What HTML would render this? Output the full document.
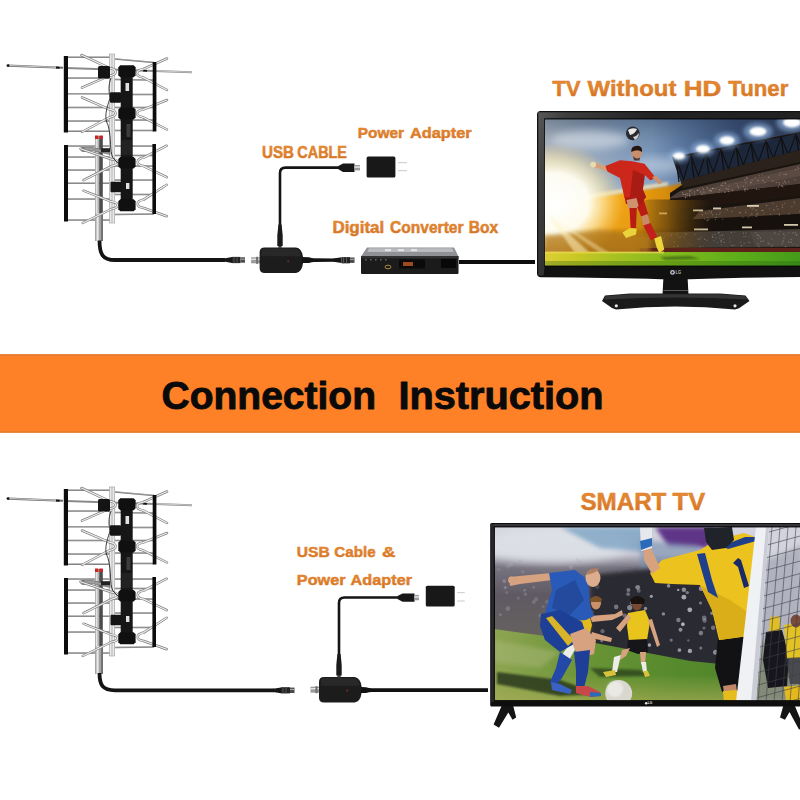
<!DOCTYPE html>
<html lang="en"><head><meta charset="utf-8"><title>Connection Instruction</title>
<style>html,body{margin:0;padding:0;background:#fff;}body{width:800px;height:800px;overflow:hidden;}svg{display:block;}</style>
</head><body>
<svg width="800" height="800" viewBox="0 0 800 800">
<defs>
<linearGradient id="txg" x1="0" y1="0" x2="0" y2="1" gradientUnits="objectBoundingBox">
<stop offset="0" stop-color="#e88e36"/><stop offset="0.55" stop-color="#df802c"/><stop offset="1" stop-color="#cc6c20"/>
</linearGradient>
<filter id="b1" x="-20%" y="-20%" width="140%" height="140%"><feGaussianBlur stdDeviation="1"/></filter>
<filter id="b2" x="-20%" y="-20%" width="140%" height="140%"><feGaussianBlur stdDeviation="2"/></filter>
<filter id="b4" x="-30%" y="-30%" width="160%" height="160%"><feGaussianBlur stdDeviation="4"/></filter>
<filter id="b8" x="-50%" y="-50%" width="200%" height="200%"><feGaussianBlur stdDeviation="8"/></filter>
</defs>

<rect x="0" y="354.3" width="800" height="78.4" fill="#fe8127"/>
<rect x="0" y="354.3" width="800" height="1.2" fill="#dc7a36"/>
<rect x="0" y="431.3" width="800" height="1.4" fill="#e07c30"/>
<text y="409" font-family="'Liberation Sans', Arial, sans-serif" font-size="39" font-weight="bold" fill="#0a0a0a" stroke="#0a0a0a" stroke-width="0.9" stroke-linejoin="round"><tspan x="161.5" textLength="214.5" lengthAdjust="spacingAndGlyphs">Connection</tspan> <tspan x="398.5" textLength="205.0" lengthAdjust="spacingAndGlyphs">Instruction</tspan></text>
<text y="95.7" font-family="'Liberation Sans', Arial, sans-serif" font-size="22" font-weight="bold" fill="url(#txg)" stroke="#dc7e2c" stroke-width="0.5" stroke-linejoin="round"><tspan x="552.3" textLength="28.4" lengthAdjust="spacingAndGlyphs">TV</tspan> <tspan x="587.5" textLength="89.0" lengthAdjust="spacingAndGlyphs">Without</tspan> <tspan x="683.7" textLength="37.6" lengthAdjust="spacingAndGlyphs">HD</tspan> <tspan x="728.3" textLength="60.0" lengthAdjust="spacingAndGlyphs">Tuner</tspan></text>
<text y="158.2" font-family="'Liberation Sans', Arial, sans-serif" font-size="15.6" font-weight="bold" fill="url(#txg)" stroke="#dc7e2c" stroke-width="0.5" stroke-linejoin="round"><tspan x="262" textLength="32" lengthAdjust="spacingAndGlyphs">USB</tspan> <tspan x="297.3" textLength="49.7" lengthAdjust="spacingAndGlyphs">CABLE</tspan></text>
<text y="138.3" font-family="'Liberation Sans', Arial, sans-serif" font-size="15" font-weight="bold" fill="url(#txg)" stroke="#dc7e2c" stroke-width="0.5" stroke-linejoin="round"><tspan x="357.7" textLength="46.3" lengthAdjust="spacingAndGlyphs">Power</tspan> <tspan x="410" textLength="61.7" lengthAdjust="spacingAndGlyphs">Adapter</tspan></text>
<text y="233" font-family="'Liberation Sans', Arial, sans-serif" font-size="15.6" font-weight="bold" fill="url(#txg)" stroke="#dc7e2c" stroke-width="0.5" stroke-linejoin="round"><tspan x="332.4" textLength="51.9" lengthAdjust="spacingAndGlyphs">Digital</tspan> <tspan x="390" textLength="73.6" lengthAdjust="spacingAndGlyphs">Converter</tspan> <tspan x="468.8" textLength="29.5" lengthAdjust="spacingAndGlyphs">Box</tspan></text>
<text y="510" font-family="'Liberation Sans', Arial, sans-serif" font-size="23.8" font-weight="bold" fill="url(#txg)" stroke="#dc7e2c" stroke-width="0.5" stroke-linejoin="round"><tspan x="580.4" textLength="86.0" lengthAdjust="spacingAndGlyphs">SMART</tspan> <tspan x="672.6" textLength="32.6" lengthAdjust="spacingAndGlyphs">TV</tspan></text>
<text y="557" font-family="'Liberation Sans', Arial, sans-serif" font-size="15.4" font-weight="bold" fill="url(#txg)" stroke="#dc7e2c" stroke-width="0.5" stroke-linejoin="round"><tspan x="296.8" textLength="33.0" lengthAdjust="spacingAndGlyphs">USB</tspan> <tspan x="334.3" textLength="41.3" lengthAdjust="spacingAndGlyphs">Cable</tspan> <tspan x="382" textLength="13.5" lengthAdjust="spacingAndGlyphs">&amp;</tspan></text>
<text y="584.6" font-family="'Liberation Sans', Arial, sans-serif" font-size="15.4" font-weight="bold" fill="url(#txg)" stroke="#dc7e2c" stroke-width="0.5" stroke-linejoin="round"><tspan x="296.8" textLength="48.8" lengthAdjust="spacingAndGlyphs">Power</tspan> <tspan x="350.6" textLength="61.4" lengthAdjust="spacingAndGlyphs">Adapter</tspan></text>
<g><line x1="66" y1="57.3" x2="110" y2="57.3" stroke="#767676" stroke-width="1.5"/>
<line x1="66" y1="57.05" x2="110" y2="57.05" stroke="#c9c9c9" stroke-width="0.45"/>
<line x1="66" y1="78" x2="110" y2="78" stroke="#767676" stroke-width="1.5"/>
<line x1="66" y1="77.75" x2="110" y2="77.75" stroke="#c9c9c9" stroke-width="0.45"/>
<line x1="66" y1="93.8" x2="110" y2="93.8" stroke="#767676" stroke-width="1.5"/>
<line x1="66" y1="93.55" x2="110" y2="93.55" stroke="#c9c9c9" stroke-width="0.45"/>
<line x1="66" y1="107.5" x2="110" y2="107.5" stroke="#767676" stroke-width="1.5"/>
<line x1="66" y1="107.25" x2="110" y2="107.25" stroke="#c9c9c9" stroke-width="0.45"/>
<line x1="66" y1="121" x2="110" y2="121" stroke="#767676" stroke-width="1.5"/>
<line x1="66" y1="120.75" x2="110" y2="120.75" stroke="#c9c9c9" stroke-width="0.45"/>
<line x1="66" y1="131.2" x2="110" y2="131.2" stroke="#767676" stroke-width="1.5"/>
<line x1="66" y1="130.95" x2="110" y2="130.95" stroke="#c9c9c9" stroke-width="0.45"/>
<line x1="115" y1="59" x2="154" y2="62.5" stroke="#767676" stroke-width="1.5"/>
<line x1="115" y1="58.75" x2="154" y2="62.25" stroke="#c9c9c9" stroke-width="0.45"/>
<line x1="115" y1="79.5" x2="154" y2="80" stroke="#767676" stroke-width="1.5"/>
<line x1="115" y1="79.25" x2="154" y2="79.75" stroke="#c9c9c9" stroke-width="0.45"/>
<line x1="115" y1="94.5" x2="154" y2="94.5" stroke="#767676" stroke-width="1.5"/>
<line x1="115" y1="94.25" x2="154" y2="94.25" stroke="#c9c9c9" stroke-width="0.45"/>
<line x1="115" y1="107.5" x2="154" y2="107.5" stroke="#767676" stroke-width="1.5"/>
<line x1="115" y1="107.25" x2="154" y2="107.25" stroke="#c9c9c9" stroke-width="0.45"/>
<line x1="115" y1="120" x2="154" y2="120" stroke="#767676" stroke-width="1.5"/>
<line x1="115" y1="119.75" x2="154" y2="119.75" stroke="#c9c9c9" stroke-width="0.45"/>
<line x1="115" y1="130.5" x2="154" y2="130.5" stroke="#767676" stroke-width="1.5"/>
<line x1="115" y1="130.25" x2="154" y2="130.25" stroke="#c9c9c9" stroke-width="0.45"/>
<line x1="66" y1="146" x2="110" y2="146" stroke="#767676" stroke-width="1.5"/>
<line x1="66" y1="145.75" x2="110" y2="145.75" stroke="#c9c9c9" stroke-width="0.45"/>
<line x1="66" y1="157" x2="110" y2="157" stroke="#767676" stroke-width="1.5"/>
<line x1="66" y1="156.75" x2="110" y2="156.75" stroke="#c9c9c9" stroke-width="0.45"/>
<line x1="66" y1="170" x2="110" y2="170" stroke="#767676" stroke-width="1.5"/>
<line x1="66" y1="169.75" x2="110" y2="169.75" stroke="#c9c9c9" stroke-width="0.45"/>
<line x1="66" y1="183.3" x2="110" y2="183.3" stroke="#767676" stroke-width="1.5"/>
<line x1="66" y1="183.05" x2="110" y2="183.05" stroke="#c9c9c9" stroke-width="0.45"/>
<line x1="66" y1="199" x2="110" y2="199" stroke="#767676" stroke-width="1.5"/>
<line x1="66" y1="198.75" x2="110" y2="198.75" stroke="#c9c9c9" stroke-width="0.45"/>
<line x1="66" y1="220" x2="110" y2="220" stroke="#767676" stroke-width="1.5"/>
<line x1="66" y1="219.75" x2="110" y2="219.75" stroke="#c9c9c9" stroke-width="0.45"/>
<line x1="115" y1="146" x2="154" y2="146" stroke="#767676" stroke-width="1.5"/>
<line x1="115" y1="145.75" x2="154" y2="145.75" stroke="#c9c9c9" stroke-width="0.45"/>
<line x1="115" y1="155.5" x2="154" y2="155.5" stroke="#767676" stroke-width="1.5"/>
<line x1="115" y1="155.25" x2="154" y2="155.25" stroke="#c9c9c9" stroke-width="0.45"/>
<line x1="115" y1="166" x2="154" y2="166" stroke="#767676" stroke-width="1.5"/>
<line x1="115" y1="165.75" x2="154" y2="165.75" stroke="#c9c9c9" stroke-width="0.45"/>
<line x1="115" y1="180" x2="154" y2="180" stroke="#767676" stroke-width="1.5"/>
<line x1="115" y1="179.75" x2="154" y2="179.75" stroke="#c9c9c9" stroke-width="0.45"/>
<line x1="115" y1="194.5" x2="154" y2="194.5" stroke="#767676" stroke-width="1.5"/>
<line x1="115" y1="194.25" x2="154" y2="194.25" stroke="#c9c9c9" stroke-width="0.45"/>
<line x1="115" y1="214.5" x2="154" y2="214" stroke="#767676" stroke-width="1.5"/>
<line x1="115" y1="214.25" x2="154" y2="213.75" stroke="#c9c9c9" stroke-width="0.45"/>
<line x1="8" y1="65.6" x2="63" y2="67.8" stroke="#6c6c6c" stroke-width="2.1"/>
<line x1="9" y1="65.5" x2="56" y2="67.4" stroke="#e2e2e2" stroke-width="0.8"/>
<circle cx="8" cy="65.6" r="1.4" fill="#111"/>
<line x1="56" y1="67.5" x2="59.5" y2="67.7" stroke="#111" stroke-width="2.1"/>
<line x1="66" y1="68" x2="192" y2="72.3" stroke="#8a8a8a" stroke-width="1.9"/>
<line x1="156" y1="70.9" x2="192" y2="72.2" stroke="#e6e6e6" stroke-width="0.7"/>
<line x1="143" y1="70.7" x2="147" y2="70.9" stroke="#111" stroke-width="1.6"/>
<rect x="109.5" y="54" width="5.2" height="169" fill="#e9e9e9" stroke="#9a9a9a" stroke-width="0.6"/>
<rect x="111.3" y="54" width="1.4" height="169" fill="#c4c4c4"/>
<rect x="95" y="136" width="4.2" height="105" fill="#b4b4b4"/>
<rect x="96" y="136" width="1.4" height="105" fill="#e4e4e4"/>
<rect x="99.2" y="136" width="3.6" height="105" fill="#4c4c4c"/>
<rect x="95" y="213" width="7.8" height="28" fill="#a4a4a4"/>
<rect x="96.5" y="213" width="2.2" height="28" fill="#e9e9e9"/>
<rect x="101.2" y="213" width="1.6" height="28" fill="#6a6a6a"/>
<rect x="95" y="135.5" width="3.4" height="3.5" fill="#c22"/>
<rect x="99.4" y="135.5" width="3.4" height="3.5" fill="#c22"/>
<path d="M82 147.5 L92 147.3 L110 151.5 L110 154.5 L92 150.6 L83 151.6 Z" fill="#9c9c9c" stroke="#4a4a4a" stroke-width="0.5"/>
<circle cx="82.5" cy="149.5" r="1.8" fill="none" stroke="#555" stroke-width="0.8"/>
<rect x="101" y="148.2" width="9" height="4" fill="#222"/>
<path d="M81.5 55 L109.5 68.1 C117.5 69.3 117.5 74.6 109.5 75.7 L82 87.7" fill="none" stroke="#7c7c7c" stroke-width="2.5" stroke-linecap="round" stroke-linejoin="round"/>
<path d="M81.5 55 L109.5 68.1 C117.5 69.3 117.5 74.6 109.5 75.7 L82 87.7" fill="none" stroke="#f0f0f0" stroke-width="1.2" stroke-linecap="round" stroke-linejoin="round"/>
<path d="M167 58.5 L143.0 69.2 C135.0 70.4 135.0 76.1 143.0 77.4 L167 90" fill="none" stroke="#7c7c7c" stroke-width="2.5" stroke-linecap="round" stroke-linejoin="round"/>
<path d="M167 58.5 L143.0 69.2 C135.0 70.4 135.0 76.1 143.0 77.4 L167 90" fill="none" stroke="#f0f0f0" stroke-width="1.2" stroke-linecap="round" stroke-linejoin="round"/>
<path d="M82 97.5 L109.5 109.4 C117.5 110.5 117.5 116.1 109.5 117.4 L82 132" fill="none" stroke="#7c7c7c" stroke-width="2.5" stroke-linecap="round" stroke-linejoin="round"/>
<path d="M82 97.5 L109.5 109.4 C117.5 110.5 117.5 116.1 109.5 117.4 L82 132" fill="none" stroke="#f0f0f0" stroke-width="1.2" stroke-linecap="round" stroke-linejoin="round"/>
<path d="M167 100 L143.0 109.6 C135.0 110.6 135.0 116.0 143.0 117.3 L167 129.5" fill="none" stroke="#7c7c7c" stroke-width="2.5" stroke-linecap="round" stroke-linejoin="round"/>
<path d="M167 100 L143.0 109.6 C135.0 110.6 135.0 116.0 143.0 117.3 L167 129.5" fill="none" stroke="#f0f0f0" stroke-width="1.2" stroke-linecap="round" stroke-linejoin="round"/>
<path d="M80.5 148.7 L111.5 159.2 C119.5 160.0 119.5 164.9 111.5 166.2 L83.5 180.2" fill="none" stroke="#7c7c7c" stroke-width="2.5" stroke-linecap="round" stroke-linejoin="round"/>
<path d="M80.5 148.7 L111.5 159.2 C119.5 160.0 119.5 164.9 111.5 166.2 L83.5 180.2" fill="none" stroke="#f0f0f0" stroke-width="1.2" stroke-linecap="round" stroke-linejoin="round"/>
<path d="M166.7 145.7 L143.7 157.6 C135.7 158.9 135.7 164.9 143.7 166.1 L166.7 177.2" fill="none" stroke="#7c7c7c" stroke-width="2.5" stroke-linecap="round" stroke-linejoin="round"/>
<path d="M166.7 145.7 L143.7 157.6 C135.7 158.9 135.7 164.9 143.7 166.1 L166.7 177.2" fill="none" stroke="#f0f0f0" stroke-width="1.2" stroke-linecap="round" stroke-linejoin="round"/>
<path d="M83.5 190.7 L111.5 201.7 C119.5 202.7 119.5 207.8 111.5 209.0 L82.7 223" fill="none" stroke="#7c7c7c" stroke-width="2.5" stroke-linecap="round" stroke-linejoin="round"/>
<path d="M83.5 190.7 L111.5 201.7 C119.5 202.7 119.5 207.8 111.5 209.0 L82.7 223" fill="none" stroke="#f0f0f0" stroke-width="1.2" stroke-linecap="round" stroke-linejoin="round"/>
<path d="M166.7 184.7 L143.7 199.6 C135.7 201.2 135.7 207.1 143.7 208.0 L166.7 216.2" fill="none" stroke="#7c7c7c" stroke-width="2.5" stroke-linecap="round" stroke-linejoin="round"/>
<path d="M166.7 184.7 L143.7 199.6 C135.7 201.2 135.7 207.1 143.7 208.0 L166.7 216.2" fill="none" stroke="#f0f0f0" stroke-width="1.2" stroke-linecap="round" stroke-linejoin="round"/>
<path d="M111 78 C108 86 109 92 110 98 C106 110 104 118 108 125 C112 140 109 150 113 158 L121 166" fill="none" stroke="#2a2a2a" stroke-width="0.9"/>
<rect x="63.8" y="56" width="4.2" height="76.5" fill="#0c0c0c"/>
<rect x="152.7" y="62" width="3.7" height="69.5" fill="#0c0c0c"/>
<rect x="64" y="145" width="4" height="76.5" fill="#0c0c0c"/>
<rect x="152.4" y="144" width="3.6" height="70" fill="#0c0c0c"/>
<rect x="120.7" y="66" width="12" height="145" fill="#161616"/>
<path d="M120.3 65.2 L133.6 65.2 L135.6 67.2 L135.6 75.2 L133.6 77.2 L120.3 77.2 L118.3 75.2 L118.3 67.2 Z" fill="#101010"/>
<path d="M120.3 107.5 L133.6 107.5 L135.6 109.5 L135.6 117.5 L133.6 119.5 L120.3 119.5 L118.3 117.5 L118.3 109.5 Z" fill="#101010"/>
<path d="M120.3 157 L133.6 157 L135.6 159 L135.6 166.5 L133.6 168.5 L120.3 168.5 L118.3 166.5 L118.3 159 Z" fill="#101010"/>
<path d="M120.3 199.3 L133.6 199.3 L135.6 201.3 L135.6 209.3 L133.6 211.3 L120.3 211.3 L118.3 209.3 L118.3 201.3 Z" fill="#101010"/>
<rect x="125.5" y="83" width="3.6" height="8" fill="#e2e2e2"/>
<rect x="126" y="183" width="3.4" height="6" fill="#e2e2e2"/>
<rect x="126.5" y="124" width="4" height="13" fill="#3c3c3c"/>
<rect x="121.5" y="140" width="10.5" height="15" fill="#222"/>
<rect x="98" y="66" width="12" height="12.5" rx="1.5" fill="#141414"/>
<rect x="110" y="92.2" width="11" height="10.6" rx="1" fill="#141414"/>
<rect x="110.5" y="181.7" width="11" height="10.6" rx="1" fill="#141414"/></g>
<g transform="translate(0,433)"><line x1="66" y1="57.3" x2="110" y2="57.3" stroke="#767676" stroke-width="1.5"/>
<line x1="66" y1="57.05" x2="110" y2="57.05" stroke="#c9c9c9" stroke-width="0.45"/>
<line x1="66" y1="78" x2="110" y2="78" stroke="#767676" stroke-width="1.5"/>
<line x1="66" y1="77.75" x2="110" y2="77.75" stroke="#c9c9c9" stroke-width="0.45"/>
<line x1="66" y1="93.8" x2="110" y2="93.8" stroke="#767676" stroke-width="1.5"/>
<line x1="66" y1="93.55" x2="110" y2="93.55" stroke="#c9c9c9" stroke-width="0.45"/>
<line x1="66" y1="107.5" x2="110" y2="107.5" stroke="#767676" stroke-width="1.5"/>
<line x1="66" y1="107.25" x2="110" y2="107.25" stroke="#c9c9c9" stroke-width="0.45"/>
<line x1="66" y1="121" x2="110" y2="121" stroke="#767676" stroke-width="1.5"/>
<line x1="66" y1="120.75" x2="110" y2="120.75" stroke="#c9c9c9" stroke-width="0.45"/>
<line x1="66" y1="131.2" x2="110" y2="131.2" stroke="#767676" stroke-width="1.5"/>
<line x1="66" y1="130.95" x2="110" y2="130.95" stroke="#c9c9c9" stroke-width="0.45"/>
<line x1="115" y1="59" x2="154" y2="62.5" stroke="#767676" stroke-width="1.5"/>
<line x1="115" y1="58.75" x2="154" y2="62.25" stroke="#c9c9c9" stroke-width="0.45"/>
<line x1="115" y1="79.5" x2="154" y2="80" stroke="#767676" stroke-width="1.5"/>
<line x1="115" y1="79.25" x2="154" y2="79.75" stroke="#c9c9c9" stroke-width="0.45"/>
<line x1="115" y1="94.5" x2="154" y2="94.5" stroke="#767676" stroke-width="1.5"/>
<line x1="115" y1="94.25" x2="154" y2="94.25" stroke="#c9c9c9" stroke-width="0.45"/>
<line x1="115" y1="107.5" x2="154" y2="107.5" stroke="#767676" stroke-width="1.5"/>
<line x1="115" y1="107.25" x2="154" y2="107.25" stroke="#c9c9c9" stroke-width="0.45"/>
<line x1="115" y1="120" x2="154" y2="120" stroke="#767676" stroke-width="1.5"/>
<line x1="115" y1="119.75" x2="154" y2="119.75" stroke="#c9c9c9" stroke-width="0.45"/>
<line x1="115" y1="130.5" x2="154" y2="130.5" stroke="#767676" stroke-width="1.5"/>
<line x1="115" y1="130.25" x2="154" y2="130.25" stroke="#c9c9c9" stroke-width="0.45"/>
<line x1="66" y1="146" x2="110" y2="146" stroke="#767676" stroke-width="1.5"/>
<line x1="66" y1="145.75" x2="110" y2="145.75" stroke="#c9c9c9" stroke-width="0.45"/>
<line x1="66" y1="157" x2="110" y2="157" stroke="#767676" stroke-width="1.5"/>
<line x1="66" y1="156.75" x2="110" y2="156.75" stroke="#c9c9c9" stroke-width="0.45"/>
<line x1="66" y1="170" x2="110" y2="170" stroke="#767676" stroke-width="1.5"/>
<line x1="66" y1="169.75" x2="110" y2="169.75" stroke="#c9c9c9" stroke-width="0.45"/>
<line x1="66" y1="183.3" x2="110" y2="183.3" stroke="#767676" stroke-width="1.5"/>
<line x1="66" y1="183.05" x2="110" y2="183.05" stroke="#c9c9c9" stroke-width="0.45"/>
<line x1="66" y1="199" x2="110" y2="199" stroke="#767676" stroke-width="1.5"/>
<line x1="66" y1="198.75" x2="110" y2="198.75" stroke="#c9c9c9" stroke-width="0.45"/>
<line x1="66" y1="220" x2="110" y2="220" stroke="#767676" stroke-width="1.5"/>
<line x1="66" y1="219.75" x2="110" y2="219.75" stroke="#c9c9c9" stroke-width="0.45"/>
<line x1="115" y1="146" x2="154" y2="146" stroke="#767676" stroke-width="1.5"/>
<line x1="115" y1="145.75" x2="154" y2="145.75" stroke="#c9c9c9" stroke-width="0.45"/>
<line x1="115" y1="155.5" x2="154" y2="155.5" stroke="#767676" stroke-width="1.5"/>
<line x1="115" y1="155.25" x2="154" y2="155.25" stroke="#c9c9c9" stroke-width="0.45"/>
<line x1="115" y1="166" x2="154" y2="166" stroke="#767676" stroke-width="1.5"/>
<line x1="115" y1="165.75" x2="154" y2="165.75" stroke="#c9c9c9" stroke-width="0.45"/>
<line x1="115" y1="180" x2="154" y2="180" stroke="#767676" stroke-width="1.5"/>
<line x1="115" y1="179.75" x2="154" y2="179.75" stroke="#c9c9c9" stroke-width="0.45"/>
<line x1="115" y1="194.5" x2="154" y2="194.5" stroke="#767676" stroke-width="1.5"/>
<line x1="115" y1="194.25" x2="154" y2="194.25" stroke="#c9c9c9" stroke-width="0.45"/>
<line x1="115" y1="214.5" x2="154" y2="214" stroke="#767676" stroke-width="1.5"/>
<line x1="115" y1="214.25" x2="154" y2="213.75" stroke="#c9c9c9" stroke-width="0.45"/>
<line x1="8" y1="65.6" x2="63" y2="67.8" stroke="#6c6c6c" stroke-width="2.1"/>
<line x1="9" y1="65.5" x2="56" y2="67.4" stroke="#e2e2e2" stroke-width="0.8"/>
<circle cx="8" cy="65.6" r="1.4" fill="#111"/>
<line x1="56" y1="67.5" x2="59.5" y2="67.7" stroke="#111" stroke-width="2.1"/>
<line x1="66" y1="68" x2="192" y2="72.3" stroke="#8a8a8a" stroke-width="1.9"/>
<line x1="156" y1="70.9" x2="192" y2="72.2" stroke="#e6e6e6" stroke-width="0.7"/>
<line x1="143" y1="70.7" x2="147" y2="70.9" stroke="#111" stroke-width="1.6"/>
<rect x="109.5" y="54" width="5.2" height="169" fill="#e9e9e9" stroke="#9a9a9a" stroke-width="0.6"/>
<rect x="111.3" y="54" width="1.4" height="169" fill="#c4c4c4"/>
<rect x="95" y="136" width="4.2" height="105" fill="#b4b4b4"/>
<rect x="96" y="136" width="1.4" height="105" fill="#e4e4e4"/>
<rect x="99.2" y="136" width="3.6" height="105" fill="#4c4c4c"/>
<rect x="95" y="213" width="7.8" height="28" fill="#a4a4a4"/>
<rect x="96.5" y="213" width="2.2" height="28" fill="#e9e9e9"/>
<rect x="101.2" y="213" width="1.6" height="28" fill="#6a6a6a"/>
<rect x="95" y="135.5" width="3.4" height="3.5" fill="#c22"/>
<rect x="99.4" y="135.5" width="3.4" height="3.5" fill="#c22"/>
<path d="M82 147.5 L92 147.3 L110 151.5 L110 154.5 L92 150.6 L83 151.6 Z" fill="#9c9c9c" stroke="#4a4a4a" stroke-width="0.5"/>
<circle cx="82.5" cy="149.5" r="1.8" fill="none" stroke="#555" stroke-width="0.8"/>
<rect x="101" y="148.2" width="9" height="4" fill="#222"/>
<path d="M81.5 55 L109.5 68.1 C117.5 69.3 117.5 74.6 109.5 75.7 L82 87.7" fill="none" stroke="#7c7c7c" stroke-width="2.5" stroke-linecap="round" stroke-linejoin="round"/>
<path d="M81.5 55 L109.5 68.1 C117.5 69.3 117.5 74.6 109.5 75.7 L82 87.7" fill="none" stroke="#f0f0f0" stroke-width="1.2" stroke-linecap="round" stroke-linejoin="round"/>
<path d="M167 58.5 L143.0 69.2 C135.0 70.4 135.0 76.1 143.0 77.4 L167 90" fill="none" stroke="#7c7c7c" stroke-width="2.5" stroke-linecap="round" stroke-linejoin="round"/>
<path d="M167 58.5 L143.0 69.2 C135.0 70.4 135.0 76.1 143.0 77.4 L167 90" fill="none" stroke="#f0f0f0" stroke-width="1.2" stroke-linecap="round" stroke-linejoin="round"/>
<path d="M82 97.5 L109.5 109.4 C117.5 110.5 117.5 116.1 109.5 117.4 L82 132" fill="none" stroke="#7c7c7c" stroke-width="2.5" stroke-linecap="round" stroke-linejoin="round"/>
<path d="M82 97.5 L109.5 109.4 C117.5 110.5 117.5 116.1 109.5 117.4 L82 132" fill="none" stroke="#f0f0f0" stroke-width="1.2" stroke-linecap="round" stroke-linejoin="round"/>
<path d="M167 100 L143.0 109.6 C135.0 110.6 135.0 116.0 143.0 117.3 L167 129.5" fill="none" stroke="#7c7c7c" stroke-width="2.5" stroke-linecap="round" stroke-linejoin="round"/>
<path d="M167 100 L143.0 109.6 C135.0 110.6 135.0 116.0 143.0 117.3 L167 129.5" fill="none" stroke="#f0f0f0" stroke-width="1.2" stroke-linecap="round" stroke-linejoin="round"/>
<path d="M80.5 148.7 L111.5 159.2 C119.5 160.0 119.5 164.9 111.5 166.2 L83.5 180.2" fill="none" stroke="#7c7c7c" stroke-width="2.5" stroke-linecap="round" stroke-linejoin="round"/>
<path d="M80.5 148.7 L111.5 159.2 C119.5 160.0 119.5 164.9 111.5 166.2 L83.5 180.2" fill="none" stroke="#f0f0f0" stroke-width="1.2" stroke-linecap="round" stroke-linejoin="round"/>
<path d="M166.7 145.7 L143.7 157.6 C135.7 158.9 135.7 164.9 143.7 166.1 L166.7 177.2" fill="none" stroke="#7c7c7c" stroke-width="2.5" stroke-linecap="round" stroke-linejoin="round"/>
<path d="M166.7 145.7 L143.7 157.6 C135.7 158.9 135.7 164.9 143.7 166.1 L166.7 177.2" fill="none" stroke="#f0f0f0" stroke-width="1.2" stroke-linecap="round" stroke-linejoin="round"/>
<path d="M83.5 190.7 L111.5 201.7 C119.5 202.7 119.5 207.8 111.5 209.0 L82.7 223" fill="none" stroke="#7c7c7c" stroke-width="2.5" stroke-linecap="round" stroke-linejoin="round"/>
<path d="M83.5 190.7 L111.5 201.7 C119.5 202.7 119.5 207.8 111.5 209.0 L82.7 223" fill="none" stroke="#f0f0f0" stroke-width="1.2" stroke-linecap="round" stroke-linejoin="round"/>
<path d="M166.7 184.7 L143.7 199.6 C135.7 201.2 135.7 207.1 143.7 208.0 L166.7 216.2" fill="none" stroke="#7c7c7c" stroke-width="2.5" stroke-linecap="round" stroke-linejoin="round"/>
<path d="M166.7 184.7 L143.7 199.6 C135.7 201.2 135.7 207.1 143.7 208.0 L166.7 216.2" fill="none" stroke="#f0f0f0" stroke-width="1.2" stroke-linecap="round" stroke-linejoin="round"/>
<path d="M111 78 C108 86 109 92 110 98 C106 110 104 118 108 125 C112 140 109 150 113 158 L121 166" fill="none" stroke="#2a2a2a" stroke-width="0.9"/>
<rect x="63.8" y="56" width="4.2" height="76.5" fill="#0c0c0c"/>
<rect x="152.7" y="62" width="3.7" height="69.5" fill="#0c0c0c"/>
<rect x="64" y="145" width="4" height="76.5" fill="#0c0c0c"/>
<rect x="152.4" y="144" width="3.6" height="70" fill="#0c0c0c"/>
<rect x="120.7" y="66" width="12" height="145" fill="#161616"/>
<path d="M120.3 65.2 L133.6 65.2 L135.6 67.2 L135.6 75.2 L133.6 77.2 L120.3 77.2 L118.3 75.2 L118.3 67.2 Z" fill="#101010"/>
<path d="M120.3 107.5 L133.6 107.5 L135.6 109.5 L135.6 117.5 L133.6 119.5 L120.3 119.5 L118.3 117.5 L118.3 109.5 Z" fill="#101010"/>
<path d="M120.3 157 L133.6 157 L135.6 159 L135.6 166.5 L133.6 168.5 L120.3 168.5 L118.3 166.5 L118.3 159 Z" fill="#101010"/>
<path d="M120.3 199.3 L133.6 199.3 L135.6 201.3 L135.6 209.3 L133.6 211.3 L120.3 211.3 L118.3 209.3 L118.3 201.3 Z" fill="#101010"/>
<rect x="125.5" y="83" width="3.6" height="8" fill="#e2e2e2"/>
<rect x="126" y="183" width="3.4" height="6" fill="#e2e2e2"/>
<rect x="126.5" y="124" width="4" height="13" fill="#3c3c3c"/>
<rect x="121.5" y="140" width="10.5" height="15" fill="#222"/>
<rect x="98" y="66" width="12" height="12.5" rx="1.5" fill="#141414"/>
<rect x="110" y="92.2" width="11" height="10.6" rx="1" fill="#141414"/>
<rect x="110.5" y="181.7" width="11" height="10.6" rx="1" fill="#141414"/></g>
<path d="M99.5 240.5 C99.5 254 102.5 260 115 260 L225 260" fill="none" stroke="#141414" stroke-width="3.8"/>
<path d="M224 258.4 L232 257.1 L232 262.9 L224 261.6 Z" fill="#161616"/>
<rect x="232" y="256.9" width="8.5" height="6.2" fill="#242424"/>
<rect x="233.5" y="256.9" width="1" height="6.2" fill="#555"/>
<rect x="236.5" y="256.9" width="1" height="6.2" fill="#555"/>
<rect x="240.5" y="257.3" width="4.5" height="5.4" fill="#4a4a4a"/>
<rect x="240.5" y="258.6" width="4.5" height="1.1" fill="#a8a8a8"/>
<rect x="251.10000000000002" y="257.3" width="10" height="6" fill="#9c9c9c"/>
<rect x="251.10000000000002" y="258.6" width="10" height="1.3" fill="#e9e9e9"/>
<rect x="256.1" y="256.8" width="2" height="7" fill="#6f6f6f"/>
<path d="M264.6 247.6 L296.0 247.6 Q302.0 248.6 303.0 257.3 L303.0 263.3 Q302.0 272.0 296.0 273.0 L264.6 273.0 Q259.6 273.0 259.6 268.0 L259.6 252.6 Q259.6 247.6 264.6 247.6 Z" fill="#1c1c1c"/>
<path d="M264.6 248.6 L295.0 248.6 Q300.0 249.6 301.0 256.3 L261.6 256.3 L261.6 252.6 Q261.6 248.6 264.6 248.6 Z" fill="#2c2c2c" opacity="0.8"/>
<circle cx="288.244" cy="261.3" r="1.1" fill="#6a2a22"/>
<path d="M280 247.6 L280 173.1 Q280 167.6 285.5 167.6 L340 167.6" fill="none" stroke="#141414" stroke-width="2.6"/>
<path d="M278.4 224.6 L281.6 224.6 L282.7 235.6 L282.7 246.1 L277.3 246.1 L277.3 235.6 Z" fill="#1a1a1a"/>
<rect x="278.4" y="246.1" width="3.2" height="2" fill="#444"/>
<path d="M338 166.2 L343 163.6 L354.5 163.6 L354.5 171.9 L343 171.9 L338 169.0 Z" fill="#171717"/>
<rect x="354.5" y="165.0" width="5.5" height="5.4" fill="#9c9c9c"/>
<rect x="354.5" y="166.4" width="5.5" height="1.4" fill="#e8e8e8"/>
<rect x="366.6" y="156.4" width="28.8" height="21" rx="1.5" fill="#181818"/>
<rect x="397.90000000000003" y="162.0" width="9.0" height="1.2" fill="#d2d2d2"/>
<rect x="397.90000000000003" y="170.0" width="9.0" height="1.2" fill="#d2d2d2"/>
<path d="M302 257 L309 257.2 Q312 258.3 314 258.3 L336 258.6 L336 261.8 L314 261.9 Q312 262 309 263 L302 263 Z" fill="#141414"/>
<path d="M333.5 258.59999999999997 L341.5 257.3 L341.5 263.09999999999997 L333.5 261.8 Z" fill="#161616"/>
<rect x="341.5" y="257.09999999999997" width="8.5" height="6.2" fill="#242424"/>
<rect x="343.0" y="257.09999999999997" width="1" height="6.2" fill="#555"/>
<rect x="346.0" y="257.09999999999997" width="1" height="6.2" fill="#555"/>
<rect x="350.0" y="257.5" width="4.5" height="5.4" fill="#4a4a4a"/>
<rect x="350.0" y="258.8" width="4.5" height="1.1" fill="#a8a8a8"/>
<path d="M367 247.5 L454 247.5 L458.5 256.5 L361 256.5 Z" fill="#8f9194"/>
<path d="M369 248.3 L452 248.3 L454 252 L367.2 252 Z" fill="#b9bbbe"/>
<rect x="385" y="249" width="6" height="2.2" fill="#e3e3e3"/>
<rect x="398" y="249" width="6" height="2.2" fill="#e3e3e3"/>
<rect x="411" y="249" width="6" height="2.2" fill="#e3e3e3"/>
<rect x="361" y="256" width="97.5" height="18" rx="1" fill="#1b1b1b"/>
<rect x="361" y="256" width="97.5" height="2.4" fill="#303133"/>
<rect x="399" y="259.5" width="26" height="9" fill="#0a0a0a"/>
<rect x="403" y="262" width="10" height="4" fill="#a04a1e"/>
<rect x="441" y="259" width="15" height="9" fill="#080808"/>
<ellipse cx="388" cy="267" rx="3" ry="1.8" fill="none" stroke="#c9a24a" stroke-width="0.8"/>
<rect x="365" y="259.2" width="1.6" height="1.2" fill="#777"/>
<rect x="370" y="259.2" width="1.6" height="1.2" fill="#777"/>
<rect x="375" y="259.2" width="1.6" height="1.2" fill="#777"/>
<rect x="380" y="259.2" width="1.6" height="1.2" fill="#777"/>
<rect x="385" y="259.2" width="1.6" height="1.2" fill="#777"/>
<path d="M459 262 L535 262" stroke="#0d0d0d" stroke-width="3.8" fill="none"/>
<path d="M99.5 673 C99.5 685 102.5 690.3 115 690.3 L274 690.3" fill="none" stroke="#141414" stroke-width="3.8"/>
<path d="M273 688.6999999999999 L281 687.4 L281 693.1999999999999 L273 691.9 Z" fill="#161616"/>
<rect x="281" y="687.1999999999999" width="9.0" height="6.2" fill="#242424"/>
<rect x="282.5" y="687.1999999999999" width="1" height="6.2" fill="#555"/>
<rect x="285.5" y="687.1999999999999" width="1" height="6.2" fill="#555"/>
<rect x="290.0" y="687.5999999999999" width="4.5" height="5.4" fill="#4a4a4a"/>
<rect x="290.0" y="688.9" width="4.5" height="1.1" fill="#a8a8a8"/>
<rect x="310.5" y="686.7" width="10" height="6" fill="#9c9c9c"/>
<rect x="310.5" y="688.0" width="10" height="1.3" fill="#e9e9e9"/>
<rect x="315.5" y="686.2" width="2" height="7" fill="#6f6f6f"/>
<path d="M324 677 L354.6 677 Q360.6 678 361.6 686.7 L361.6 692.7 Q360.6 701.4 354.6 702.4 L324 702.4 Q319 702.4 319 697.4 L319 682 Q319 677 324 677 Z" fill="#1c1c1c"/>
<path d="M324 678 L353.6 678 Q358.6 679 359.6 685.7 L321 685.7 L321 682 Q321 678 324 678 Z" fill="#2c2c2c" opacity="0.8"/>
<circle cx="347.116" cy="690.7" r="1.1" fill="#6a2a22"/>
<path d="M339 677 L339 603.0 Q339 597.5 344.5 597.5 L399.5 597.5" fill="none" stroke="#141414" stroke-width="2.6"/>
<path d="M337.4 654 L340.6 654 L341.7 665 L341.7 675.5 L336.3 675.5 L336.3 665 Z" fill="#1a1a1a"/>
<rect x="337.4" y="675.5" width="3.2" height="2" fill="#444"/>
<path d="M397.5 596.1 L402.5 593.5 L414.5 593.5 L414.5 601.8 L402.5 601.8 L397.5 598.9 Z" fill="#171717"/>
<rect x="414.5" y="594.9" width="4.5" height="5.4" fill="#9c9c9c"/>
<rect x="414.5" y="596.3" width="4.5" height="1.4" fill="#e8e8e8"/>
<rect x="425.8" y="585.8" width="28.9" height="20.7" rx="1.5" fill="#181818"/>
<rect x="457.2" y="592.0" width="7.5" height="1.2" fill="#d2d2d2"/>
<rect x="457.2" y="600.4" width="7.5" height="1.2" fill="#d2d2d2"/>
<path d="M361 687 L366 687.2 Q369 688.3 372 688.3 L488 688.3 L488 692 L372 692 Q369 692 366 693 L361 693 Z" fill="#101010"/>
<defs>
<clipPath id="scr1"><rect x="544.5" y="119" width="256" height="147"/></clipPath>
<linearGradient id="sky1" x1="544" y1="0" x2="800" y2="0" gradientUnits="userSpaceOnUse">
<stop offset="0" stop-color="#c2c7cc"/><stop offset="0.12" stop-color="#a9b6c5"/><stop offset="0.3" stop-color="#8ca4c2"/><stop offset="0.42" stop-color="#7f9dc2"/>
<stop offset="0.55" stop-color="#56749f"/><stop offset="0.75" stop-color="#273b66"/><stop offset="1" stop-color="#131d38"/>
</linearGradient>
<linearGradient id="skyv1" x1="0" y1="119" x2="0" y2="266" gradientUnits="userSpaceOnUse">
<stop offset="0" stop-color="#3a4d68" stop-opacity="0.55"/><stop offset="0.25" stop-color="#6a7f9a" stop-opacity="0.15"/><stop offset="0.6" stop-color="#fff" stop-opacity="0.25"/>
</linearGradient>
<radialGradient id="sun1" cx="554" cy="203" r="70" gradientUnits="userSpaceOnUse" gradientTransform="translate(554 203) scale(1 0.85) translate(-554 -203)">
<stop offset="0" stop-color="#fff"/><stop offset="0.5" stop-color="#fffdf2" stop-opacity="0.97"/><stop offset="0.72" stop-color="#ffefb8" stop-opacity="0.6"/><stop offset="1" stop-color="#ffd070" stop-opacity="0"/>
</radialGradient>
<linearGradient id="stv1" x1="0" y1="195" x2="0" y2="253" gradientUnits="userSpaceOnUse">
<stop offset="0" stop-color="#5a3000" stop-opacity="0"/><stop offset="0.55" stop-color="#5a3000" stop-opacity="0.05"/><stop offset="0.7" stop-color="#5a3000" stop-opacity="0.35"/><stop offset="1" stop-color="#4a2800" stop-opacity="0.55"/>
</linearGradient>
<linearGradient id="stl1" x1="545" y1="0" x2="730" y2="0" gradientUnits="userSpaceOnUse">
<stop offset="0" stop-color="#fbd060"/><stop offset="0.2" stop-color="#f7b428"/><stop offset="0.48" stop-color="#f0a010"/><stop offset="0.66" stop-color="#d48c10"/><stop offset="0.85" stop-color="#7e5212"/><stop offset="1" stop-color="#2a1c10"/>
</linearGradient>
<linearGradient id="gr1" x1="545" y1="0" x2="800" y2="0" gradientUnits="userSpaceOnUse">
<stop offset="0" stop-color="#dccf34"/><stop offset="0.12" stop-color="#c8c826"/><stop offset="0.3" stop-color="#a2c020"/><stop offset="0.5" stop-color="#82b81c"/><stop offset="0.75" stop-color="#5eae1a"/><stop offset="1" stop-color="#449a1a"/>
</linearGradient>
<linearGradient id="stmg1" x1="640" y1="0" x2="712" y2="0" gradientUnits="userSpaceOnUse">
<stop offset="0" stop-color="#fff" stop-opacity="0.12"/><stop offset="0.5" stop-color="#fff" stop-opacity="0.55"/><stop offset="1" stop-color="#fff" stop-opacity="1"/>
</linearGradient>
<mask id="stm1" maskUnits="userSpaceOnUse" x="630" y="110" width="180" height="160">
<path d="M670 110 L810 110 L810 200 L670 200 Z" fill="#fff"/>
<rect x="630" y="199.5" width="180" height="70" fill="url(#stmg1)"/>
</mask>
<linearGradient id="bzl1" x1="538" y1="112" x2="640" y2="150" gradientUnits="userSpaceOnUse">
<stop offset="0" stop-color="#585858"/><stop offset="0.25" stop-color="#3e3e3e"/><stop offset="1" stop-color="#222"/>
</linearGradient>
<linearGradient id="bez1" x1="0" y1="266" x2="0" y2="281" gradientUnits="userSpaceOnUse">
<stop offset="0" stop-color="#0c0c0c"/><stop offset="1" stop-color="#1f1f1f"/>
</linearGradient>
</defs>
<path d="M663.5 276 L687.5 276 L688.5 295 L662.5 295 Z" fill="#121212"/>
<rect x="663.3" y="290" width="24.6" height="1" fill="#5a5a5a"/>
<path d="M605 295.5 L630 293.4 L720 293.4 L745.5 295.5 L749.5 301 L739 308.2 L735 309.6 Q675.5 303.5 616 309.6 L612 308 L602 301 Z" fill="#1a1a1a"/>
<path d="M606 296 L630 294.2 L720 294.2 L745 296 L747.5 299.5 Q675.5 295.5 604 299.5 Z" fill="#343434"/>
<circle cx="616.3" cy="305.8" r="1.6" fill="#e8e8e8"/>
<circle cx="735" cy="305.8" r="1.6" fill="#e8e8e8"/>
<path d="M540.5 111 L803 111 L803 277 Q735 277.5 690 279.3 L661 279.3 Q610 277.5 541 277.3 Q537 277 537 273.5 L537 114.5 Q537 111 540.5 111 Z" fill="#111"/>
<path d="M538.3 112.3 L800 112.3 L800 118.6 L544.6 118.6 L544.6 266 L543.6 275.5 L538.3 275.5 Z" fill="url(#bzl1)"/>
<g clip-path="url(#scr1)">
<rect x="544" y="118" width="258" height="149" fill="url(#sky1)"/>
<rect x="544" y="118" width="258" height="149" fill="url(#skyv1)"/>
<ellipse cx="590" cy="140" rx="40" ry="9" fill="#dfe6ee" opacity="0.6" filter="url(#b4)"/>
<ellipse cx="660" cy="165" rx="30" ry="8" fill="#cfdbe8" opacity="0.5" filter="url(#b4)"/>
<path d="M544 228 L575 206 L590 198 L640 190 L668 186 L700 180 L730 180 L730 253 L544 253 Z" fill="url(#stl1)" filter="url(#b1)"/>
<path d="M544 228 L575 206 L590 198 L640 190 L668 186 L700 180 L730 180 L730 253 L544 253 Z" fill="url(#stv1)"/>
<path d="M574 207 L590 198.5 L640 190 L668 185.5 L668 182 L640 186 L588 194.5 L572 204 Z" fill="#fbe9b4" opacity="0.75" filter="url(#b1)"/>
<g mask="url(#stm1)">
<path d="M672 157 L800 132 L802 253 L636 253 L636 203 L670 193 L682 185 Z" fill="#1a1411"/>
<path d="M673.5 158.5 L800 133.5 L800 150 L681 181 Z" fill="#1e2a42" opacity="0.88"/>
<path d="M676 158.0 L683.5 179.5 L691 155.0" stroke="#12100f" stroke-width="1.1" fill="none"/>
<path d="M676 158.0 L679 182.0" stroke="#12100f" stroke-width="1.3" fill="none"/>
<path d="M691 155.1 L698.5 176.0 L706 152.1" stroke="#12100f" stroke-width="1.1" fill="none"/>
<path d="M691 155.1 L694 178.5" stroke="#12100f" stroke-width="1.3" fill="none"/>
<path d="M706 152.1 L713.5 172.4 L721 149.1" stroke="#12100f" stroke-width="1.1" fill="none"/>
<path d="M706 152.1 L709 174.9" stroke="#12100f" stroke-width="1.3" fill="none"/>
<path d="M721 149.2 L728.5 168.8 L736 146.2" stroke="#12100f" stroke-width="1.1" fill="none"/>
<path d="M721 149.2 L724 171.3" stroke="#12100f" stroke-width="1.3" fill="none"/>
<path d="M736 146.2 L743.5 165.3 L751 143.2" stroke="#12100f" stroke-width="1.1" fill="none"/>
<path d="M736 146.2 L739 167.8" stroke="#12100f" stroke-width="1.3" fill="none"/>
<path d="M751 143.2 L758.5 161.8 L766 140.2" stroke="#12100f" stroke-width="1.1" fill="none"/>
<path d="M751 143.2 L754 164.2" stroke="#12100f" stroke-width="1.3" fill="none"/>
<path d="M766 140.3 L773.5 158.2 L781 137.3" stroke="#12100f" stroke-width="1.1" fill="none"/>
<path d="M766 140.3 L769 160.7" stroke="#12100f" stroke-width="1.3" fill="none"/>
<path d="M781 137.3 L788.5 154.7 L796 134.3" stroke="#12100f" stroke-width="1.1" fill="none"/>
<path d="M781 137.3 L784 157.2" stroke="#12100f" stroke-width="1.3" fill="none"/>
<path d="M796 134.4 L803.5 151.1 L811 131.4" stroke="#12100f" stroke-width="1.1" fill="none"/>
<path d="M796 134.4 L799 153.6" stroke="#12100f" stroke-width="1.3" fill="none"/>
<path d="M681 181 L800 150 L800 162 L683 188 Z" fill="#2c221c"/>
<path d="M680 191 L800 164 L800 184 L668 199 Z" fill="#4e4038"/>
<path d="M700 190 L800 168 L800 176 L700 196 Z" fill="#62524a" opacity="0.6"/>
<path d="M636 204 L668 199 L800 184 L800 196 L636 214 Z" fill="#20160f"/>
<path d="M700 211 L800 198 L800 214 L690 222 Z" fill="#4c3c30"/>
<path d="M636 222 L800 214 L800 229 L636 232 Z" fill="#17110d"/>
<rect x="659" y="212.5" width="8" height="1.8" fill="#f2e6c8" opacity="0.85"/>
<rect x="693" y="209.5" width="10" height="1.8" fill="#f2e6c8" opacity="0.85"/>
<rect x="713" y="207.5" width="8" height="1.8" fill="#f2e6c8" opacity="0.85"/>
<rect x="747" y="205" width="12" height="1.8" fill="#f2e6c8" opacity="0.85"/>
<rect x="694" y="228.5" width="14" height="1.8" fill="#f2e6c8" opacity="0.85"/>
<rect x="742" y="226.5" width="10" height="1.8" fill="#f2e6c8" opacity="0.85"/>
<rect x="784" y="224" width="14" height="1.8" fill="#f2e6c8" opacity="0.85"/>
<path d="M636 233 L800 229 L800 247 L636 248 Z" fill="#443e38"/>
<path d="M750 232 L800 231 L800 246 L755 246 Z" fill="#514a44" opacity="0.8"/>
<rect x="720.2" y="184.2" width="1.2" height="1.2" fill="#c9b8a8" opacity="0.26"/>
<rect x="758.8" y="175.1" width="1.2" height="1.2" fill="#c9b8a8" opacity="0.35"/>
<rect x="745.2" y="182.0" width="1.2" height="1.2" fill="#c9b8a8" opacity="0.34"/>
<rect x="688.8" y="193.4" width="1.2" height="1.2" fill="#c9b8a8" opacity="0.49"/>
<rect x="686.4" y="193.3" width="1.2" height="1.2" fill="#c9b8a8" opacity="0.58"/>
<rect x="690.2" y="189.9" width="1.2" height="1.2" fill="#c9b8a8" opacity="0.41"/>
<rect x="732.1" y="190.0" width="1.2" height="1.2" fill="#c9b8a8" opacity="0.58"/>
<rect x="696.6" y="189.7" width="1.2" height="1.2" fill="#c9b8a8" opacity="0.60"/>
<rect x="756.0" y="188.5" width="1.2" height="1.2" fill="#c9b8a8" opacity="0.58"/>
<rect x="750.1" y="181.5" width="1.2" height="1.2" fill="#c9b8a8" opacity="0.38"/>
<rect x="797.2" y="166.5" width="1.2" height="1.2" fill="#c9b8a8" opacity="0.33"/>
<rect x="783.3" y="173.7" width="1.2" height="1.2" fill="#c9b8a8" opacity="0.33"/>
<rect x="699.0" y="188.3" width="1.2" height="1.2" fill="#c9b8a8" opacity="0.32"/>
<rect x="718.4" y="191.7" width="1.2" height="1.2" fill="#c9b8a8" opacity="0.32"/>
<rect x="703.3" y="191.6" width="1.2" height="1.2" fill="#c9b8a8" opacity="0.47"/>
<rect x="757.4" y="179.9" width="1.2" height="1.2" fill="#c9b8a8" opacity="0.57"/>
<rect x="746.6" y="177.6" width="1.2" height="1.2" fill="#c9b8a8" opacity="0.54"/>
<rect x="689.0" y="191.0" width="1.2" height="1.2" fill="#c9b8a8" opacity="0.42"/>
<rect x="762.3" y="179.8" width="1.2" height="1.2" fill="#c9b8a8" opacity="0.48"/>
<rect x="719.1" y="189.1" width="1.2" height="1.2" fill="#c9b8a8" opacity="0.53"/>
<rect x="735.5" y="182.9" width="1.2" height="1.2" fill="#c9b8a8" opacity="0.28"/>
<rect x="775.7" y="181.9" width="1.2" height="1.2" fill="#c9b8a8" opacity="0.48"/>
<rect x="710.8" y="190.4" width="1.2" height="1.2" fill="#c9b8a8" opacity="0.57"/>
<rect x="744.0" y="189.0" width="1.2" height="1.2" fill="#c9b8a8" opacity="0.52"/>
<rect x="768.1" y="176.6" width="1.2" height="1.2" fill="#c9b8a8" opacity="0.51"/>
<rect x="797.7" y="167.7" width="1.2" height="1.2" fill="#c9b8a8" opacity="0.42"/>
<rect x="731.3" y="189.2" width="1.2" height="1.2" fill="#c9b8a8" opacity="0.31"/>
<rect x="699.9" y="191.4" width="1.2" height="1.2" fill="#c9b8a8" opacity="0.53"/>
<rect x="686.6" y="195.0" width="1.2" height="1.2" fill="#c9b8a8" opacity="0.37"/>
<rect x="772.2" y="180.4" width="1.2" height="1.2" fill="#c9b8a8" opacity="0.53"/>
<rect x="785.3" y="173.7" width="1.2" height="1.2" fill="#c9b8a8" opacity="0.59"/>
<rect x="764.0" y="182.0" width="1.2" height="1.2" fill="#c9b8a8" opacity="0.39"/>
<rect x="750.4" y="182.3" width="1.2" height="1.2" fill="#c9b8a8" opacity="0.39"/>
<rect x="781.1" y="185.3" width="1.2" height="1.2" fill="#c9b8a8" opacity="0.58"/>
<rect x="737.9" y="187.1" width="1.2" height="1.2" fill="#c9b8a8" opacity="0.50"/>
<rect x="689.2" y="194.8" width="1.2" height="1.2" fill="#c9b8a8" opacity="0.31"/>
<rect x="758.4" y="188.8" width="1.2" height="1.2" fill="#c9b8a8" opacity="0.29"/>
<rect x="779.0" y="174.4" width="1.2" height="1.2" fill="#c9b8a8" opacity="0.30"/>
<rect x="727.5" y="188.7" width="1.2" height="1.2" fill="#c9b8a8" opacity="0.57"/>
<rect x="684.7" y="193.8" width="1.2" height="1.2" fill="#c9b8a8" opacity="0.53"/>
<rect x="701.8" y="187.7" width="1.2" height="1.2" fill="#c9b8a8" opacity="0.30"/>
<rect x="689.0" y="195.4" width="1.2" height="1.2" fill="#c9b8a8" opacity="0.54"/>
<rect x="697.3" y="189.8" width="1.2" height="1.2" fill="#c9b8a8" opacity="0.59"/>
<rect x="728.1" y="191.0" width="1.2" height="1.2" fill="#c9b8a8" opacity="0.48"/>
<rect x="691.5" y="192.5" width="1.2" height="1.2" fill="#c9b8a8" opacity="0.37"/>
<rect x="746.8" y="188.7" width="1.2" height="1.2" fill="#c9b8a8" opacity="0.44"/>
<rect x="778.7" y="184.2" width="1.2" height="1.2" fill="#c9b8a8" opacity="0.30"/>
<rect x="714.9" y="188.1" width="1.2" height="1.2" fill="#c9b8a8" opacity="0.25"/>
<rect x="724.3" y="191.7" width="1.2" height="1.2" fill="#c9b8a8" opacity="0.59"/>
<rect x="795.0" y="168.9" width="1.2" height="1.2" fill="#c9b8a8" opacity="0.48"/>
<rect x="702.8" y="188.5" width="1.2" height="1.2" fill="#c9b8a8" opacity="0.43"/>
<rect x="709.5" y="189.7" width="1.2" height="1.2" fill="#c9b8a8" opacity="0.58"/>
<rect x="751.5" y="179.4" width="1.2" height="1.2" fill="#c9b8a8" opacity="0.40"/>
<rect x="682.5" y="193.8" width="1.2" height="1.2" fill="#c9b8a8" opacity="0.56"/>
<rect x="725.6" y="187.9" width="1.2" height="1.2" fill="#c9b8a8" opacity="0.54"/>
<rect x="794.5" y="179.0" width="1.2" height="1.2" fill="#c9b8a8" opacity="0.32"/>
<rect x="742.8" y="185.7" width="1.2" height="1.2" fill="#c9b8a8" opacity="0.34"/>
<rect x="761.8" y="174.2" width="1.2" height="1.2" fill="#c9b8a8" opacity="0.35"/>
<rect x="788.1" y="181.5" width="1.2" height="1.2" fill="#c9b8a8" opacity="0.33"/>
<rect x="785.2" y="182.2" width="1.2" height="1.2" fill="#c9b8a8" opacity="0.46"/>
<rect x="728.3" y="185.5" width="1.2" height="1.2" fill="#c9b8a8" opacity="0.34"/>
<rect x="694.2" y="193.5" width="1.2" height="1.2" fill="#c9b8a8" opacity="0.40"/>
<rect x="689.3" y="189.9" width="1.2" height="1.2" fill="#c9b8a8" opacity="0.30"/>
<rect x="706.6" y="187.1" width="1.2" height="1.2" fill="#c9b8a8" opacity="0.57"/>
<rect x="722.1" y="182.7" width="1.2" height="1.2" fill="#c9b8a8" opacity="0.37"/>
<rect x="682.0" y="192.1" width="1.2" height="1.2" fill="#c9b8a8" opacity="0.41"/>
<rect x="694.0" y="191.3" width="1.2" height="1.2" fill="#c9b8a8" opacity="0.45"/>
<rect x="685.0" y="196.7" width="1.2" height="1.2" fill="#c9b8a8" opacity="0.57"/>
<rect x="754.5" y="177.2" width="1.2" height="1.2" fill="#c9b8a8" opacity="0.40"/>
<rect x="711.8" y="187.9" width="1.2" height="1.2" fill="#c9b8a8" opacity="0.57"/>
<rect x="725.0" y="182.9" width="1.2" height="1.2" fill="#c9b8a8" opacity="0.43"/>
<rect x="782.2" y="186.0" width="1.2" height="1.2" fill="#c9b8a8" opacity="0.44"/>
<rect x="737.0" y="185.0" width="1.2" height="1.2" fill="#c9b8a8" opacity="0.43"/>
<rect x="692.1" y="189.6" width="1.2" height="1.2" fill="#c9b8a8" opacity="0.26"/>
<rect x="722.4" y="185.0" width="1.2" height="1.2" fill="#c9b8a8" opacity="0.40"/>
<rect x="779.8" y="172.2" width="1.2" height="1.2" fill="#c9b8a8" opacity="0.31"/>
<rect x="684.7" y="197.3" width="1.2" height="1.2" fill="#c9b8a8" opacity="0.25"/>
<rect x="744.3" y="179.2" width="1.2" height="1.2" fill="#c9b8a8" opacity="0.53"/>
<rect x="746.1" y="177.2" width="1.2" height="1.2" fill="#c9b8a8" opacity="0.31"/>
<rect x="744.3" y="190.3" width="1.2" height="1.2" fill="#c9b8a8" opacity="0.42"/>
<rect x="783.9" y="180.6" width="1.2" height="1.2" fill="#c9b8a8" opacity="0.50"/>
<rect x="712.8" y="187.9" width="1.2" height="1.2" fill="#c9b8a8" opacity="0.44"/>
<rect x="701.7" y="193.6" width="1.2" height="1.2" fill="#c9b8a8" opacity="0.36"/>
<rect x="744.8" y="187.6" width="1.2" height="1.2" fill="#c9b8a8" opacity="0.43"/>
<rect x="720.9" y="184.9" width="1.2" height="1.2" fill="#c9b8a8" opacity="0.44"/>
<rect x="777.8" y="186.4" width="1.2" height="1.2" fill="#c9b8a8" opacity="0.52"/>
<rect x="782.6" y="182.7" width="1.2" height="1.2" fill="#c9b8a8" opacity="0.29"/>
<rect x="778.6" y="182.2" width="1.2" height="1.2" fill="#c9b8a8" opacity="0.45"/>
<rect x="708.8" y="190.1" width="1.2" height="1.2" fill="#c9b8a8" opacity="0.34"/>
<rect x="724.0" y="182.1" width="1.2" height="1.2" fill="#c9b8a8" opacity="0.35"/>
<rect x="777.2" y="208.4" width="1.2" height="1.2" fill="#c4a98a" opacity="0.46"/>
<rect x="756.2" y="213.6" width="1.2" height="1.2" fill="#c4a98a" opacity="0.54"/>
<rect x="791.2" y="206.1" width="1.2" height="1.2" fill="#c4a98a" opacity="0.35"/>
<rect x="761.3" y="209.9" width="1.2" height="1.2" fill="#c4a98a" opacity="0.50"/>
<rect x="751.2" y="213.2" width="1.2" height="1.2" fill="#c4a98a" opacity="0.46"/>
<rect x="745.2" y="211.9" width="1.2" height="1.2" fill="#c4a98a" opacity="0.44"/>
<rect x="747.8" y="216.5" width="1.2" height="1.2" fill="#c4a98a" opacity="0.37"/>
<rect x="769.9" y="213.8" width="1.2" height="1.2" fill="#c4a98a" opacity="0.35"/>
<rect x="794.2" y="203.3" width="1.2" height="1.2" fill="#c4a98a" opacity="0.27"/>
<rect x="756.0" y="215.8" width="1.2" height="1.2" fill="#c4a98a" opacity="0.29"/>
<rect x="784.0" y="202.8" width="1.2" height="1.2" fill="#c4a98a" opacity="0.27"/>
<rect x="712.2" y="214.2" width="1.2" height="1.2" fill="#c4a98a" opacity="0.47"/>
<rect x="707.3" y="212.6" width="1.2" height="1.2" fill="#c4a98a" opacity="0.33"/>
<rect x="707.3" y="217.0" width="1.2" height="1.2" fill="#c4a98a" opacity="0.30"/>
<rect x="778.4" y="213.4" width="1.2" height="1.2" fill="#c4a98a" opacity="0.28"/>
<rect x="715.4" y="216.8" width="1.2" height="1.2" fill="#c4a98a" opacity="0.50"/>
<rect x="766.0" y="204.9" width="1.2" height="1.2" fill="#c4a98a" opacity="0.51"/>
<rect x="788.3" y="213.5" width="1.2" height="1.2" fill="#c4a98a" opacity="0.45"/>
<rect x="722.0" y="218.7" width="1.2" height="1.2" fill="#c4a98a" opacity="0.33"/>
<rect x="739.8" y="211.9" width="1.2" height="1.2" fill="#c4a98a" opacity="0.32"/>
<rect x="799.0" y="210.7" width="1.2" height="1.2" fill="#c4a98a" opacity="0.34"/>
<rect x="716.1" y="213.7" width="1.2" height="1.2" fill="#c4a98a" opacity="0.39"/>
<rect x="751.6" y="208.9" width="1.2" height="1.2" fill="#c4a98a" opacity="0.30"/>
<rect x="719.6" y="212.1" width="1.2" height="1.2" fill="#c4a98a" opacity="0.38"/>
<rect x="772.2" y="202.6" width="1.2" height="1.2" fill="#c4a98a" opacity="0.33"/>
<rect x="755.4" y="209.7" width="1.2" height="1.2" fill="#c4a98a" opacity="0.54"/>
<rect x="701.8" y="214.1" width="1.2" height="1.2" fill="#c4a98a" opacity="0.54"/>
<rect x="762.4" y="209.9" width="1.2" height="1.2" fill="#c4a98a" opacity="0.41"/>
<rect x="706.4" y="220.3" width="1.2" height="1.2" fill="#c4a98a" opacity="0.32"/>
<rect x="778.8" y="214.3" width="1.2" height="1.2" fill="#c4a98a" opacity="0.54"/>
<rect x="710.5" y="212.5" width="1.2" height="1.2" fill="#c4a98a" opacity="0.34"/>
<rect x="704.0" y="218.4" width="1.2" height="1.2" fill="#c4a98a" opacity="0.36"/>
<rect x="727.0" y="209.2" width="1.2" height="1.2" fill="#c4a98a" opacity="0.25"/>
<rect x="742.2" y="216.6" width="1.2" height="1.2" fill="#c4a98a" opacity="0.36"/>
<rect x="781.9" y="204.6" width="1.2" height="1.2" fill="#c4a98a" opacity="0.39"/>
<rect x="714.9" y="218.9" width="1.2" height="1.2" fill="#c4a98a" opacity="0.40"/>
<rect x="757.1" y="212.8" width="1.2" height="1.2" fill="#c4a98a" opacity="0.31"/>
<rect x="708.9" y="210.5" width="1.2" height="1.2" fill="#c4a98a" opacity="0.40"/>
<rect x="768.8" y="208.2" width="1.2" height="1.2" fill="#c4a98a" opacity="0.25"/>
<rect x="707.2" y="219.8" width="1.2" height="1.2" fill="#c4a98a" opacity="0.33"/>
<rect x="763.4" y="213.4" width="1.2" height="1.2" fill="#c4a98a" opacity="0.28"/>
<rect x="708.4" y="218.8" width="1.2" height="1.2" fill="#c4a98a" opacity="0.37"/>
<rect x="706.7" y="219.1" width="1.2" height="1.2" fill="#c4a98a" opacity="0.26"/>
<rect x="745.4" y="209.6" width="1.2" height="1.2" fill="#c4a98a" opacity="0.26"/>
<rect x="755.3" y="215.7" width="1.2" height="1.2" fill="#c4a98a" opacity="0.34"/>
<rect x="726.8" y="209.2" width="1.2" height="1.2" fill="#c4a98a" opacity="0.32"/>
<rect x="752.7" y="207.6" width="1.2" height="1.2" fill="#c4a98a" opacity="0.43"/>
<rect x="710.9" y="211.4" width="1.2" height="1.2" fill="#c4a98a" opacity="0.41"/>
<rect x="705.0" y="212.5" width="1.2" height="1.2" fill="#c4a98a" opacity="0.48"/>
<rect x="731.2" y="210.7" width="1.2" height="1.2" fill="#c4a98a" opacity="0.45"/>
<rect x="775.9" y="205.7" width="1.2" height="1.2" fill="#c4a98a" opacity="0.46"/>
<rect x="750.0" y="207.1" width="1.2" height="1.2" fill="#c4a98a" opacity="0.51"/>
<rect x="734.7" y="207.0" width="1.2" height="1.2" fill="#c4a98a" opacity="0.37"/>
<rect x="725.0" y="208.2" width="1.2" height="1.2" fill="#c4a98a" opacity="0.35"/>
<rect x="773.3" y="209.3" width="1.2" height="1.2" fill="#c4a98a" opacity="0.55"/>
<rect x="718.9" y="213.8" width="1.2" height="1.2" fill="#c4a98a" opacity="0.29"/>
<rect x="793.5" y="201.2" width="1.2" height="1.2" fill="#c4a98a" opacity="0.47"/>
<rect x="781.9" y="206.9" width="1.2" height="1.2" fill="#c4a98a" opacity="0.44"/>
<rect x="749.5" y="215.1" width="1.2" height="1.2" fill="#c4a98a" opacity="0.26"/>
<rect x="739.3" y="212.1" width="1.2" height="1.2" fill="#c4a98a" opacity="0.50"/>
<rect x="782.7" y="240.3" width="1.2" height="1.2" fill="#b8b0a4" opacity="0.39"/>
<rect x="757.4" y="243.4" width="1.2" height="1.2" fill="#b8b0a4" opacity="0.41"/>
<rect x="662.3" y="240.5" width="1.2" height="1.2" fill="#b8b0a4" opacity="0.23"/>
<rect x="720.7" y="244.1" width="1.2" height="1.2" fill="#b8b0a4" opacity="0.22"/>
<rect x="768.7" y="243.5" width="1.2" height="1.2" fill="#b8b0a4" opacity="0.36"/>
<rect x="733.4" y="244.8" width="1.2" height="1.2" fill="#b8b0a4" opacity="0.37"/>
<rect x="749.3" y="241.7" width="1.2" height="1.2" fill="#b8b0a4" opacity="0.32"/>
<rect x="676.8" y="233.5" width="1.2" height="1.2" fill="#b8b0a4" opacity="0.27"/>
<rect x="661.3" y="238.3" width="1.2" height="1.2" fill="#b8b0a4" opacity="0.38"/>
<rect x="656.8" y="244.7" width="1.2" height="1.2" fill="#b8b0a4" opacity="0.20"/>
<rect x="729.4" y="241.0" width="1.2" height="1.2" fill="#b8b0a4" opacity="0.29"/>
<rect x="740.2" y="241.6" width="1.2" height="1.2" fill="#b8b0a4" opacity="0.34"/>
<rect x="718.3" y="232.1" width="1.2" height="1.2" fill="#b8b0a4" opacity="0.49"/>
<rect x="767.6" y="242.3" width="1.2" height="1.2" fill="#b8b0a4" opacity="0.39"/>
<rect x="720.5" y="239.8" width="1.2" height="1.2" fill="#b8b0a4" opacity="0.47"/>
<rect x="745.5" y="232.4" width="1.2" height="1.2" fill="#b8b0a4" opacity="0.34"/>
<rect x="757.9" y="234.9" width="1.2" height="1.2" fill="#b8b0a4" opacity="0.27"/>
<rect x="651.9" y="237.2" width="1.2" height="1.2" fill="#b8b0a4" opacity="0.27"/>
<rect x="756.7" y="234.2" width="1.2" height="1.2" fill="#b8b0a4" opacity="0.49"/>
<rect x="758.4" y="245.9" width="1.2" height="1.2" fill="#b8b0a4" opacity="0.41"/>
<rect x="719.0" y="237.6" width="1.2" height="1.2" fill="#b8b0a4" opacity="0.29"/>
<rect x="716.6" y="242.0" width="1.2" height="1.2" fill="#b8b0a4" opacity="0.21"/>
<rect x="762.7" y="240.4" width="1.2" height="1.2" fill="#b8b0a4" opacity="0.35"/>
<rect x="742.8" y="232.6" width="1.2" height="1.2" fill="#b8b0a4" opacity="0.40"/>
<rect x="663.6" y="236.8" width="1.2" height="1.2" fill="#b8b0a4" opacity="0.33"/>
<rect x="758.9" y="235.7" width="1.2" height="1.2" fill="#b8b0a4" opacity="0.28"/>
<rect x="730.8" y="231.9" width="1.2" height="1.2" fill="#b8b0a4" opacity="0.40"/>
<rect x="649.7" y="237.3" width="1.2" height="1.2" fill="#b8b0a4" opacity="0.48"/>
<rect x="747.5" y="241.7" width="1.2" height="1.2" fill="#b8b0a4" opacity="0.27"/>
<rect x="748.1" y="235.7" width="1.2" height="1.2" fill="#b8b0a4" opacity="0.21"/>
<rect x="722.6" y="238.7" width="1.2" height="1.2" fill="#b8b0a4" opacity="0.30"/>
<rect x="714.6" y="233.8" width="1.2" height="1.2" fill="#b8b0a4" opacity="0.33"/>
<rect x="783.0" y="233.5" width="1.2" height="1.2" fill="#b8b0a4" opacity="0.40"/>
<rect x="796.5" y="245.0" width="1.2" height="1.2" fill="#b8b0a4" opacity="0.26"/>
<rect x="642.8" y="239.9" width="1.2" height="1.2" fill="#b8b0a4" opacity="0.44"/>
<rect x="771.2" y="245.7" width="1.2" height="1.2" fill="#b8b0a4" opacity="0.42"/>
<rect x="711.9" y="236.1" width="1.2" height="1.2" fill="#b8b0a4" opacity="0.35"/>
<rect x="673.6" y="246.0" width="1.2" height="1.2" fill="#b8b0a4" opacity="0.26"/>
<rect x="673.7" y="241.1" width="1.2" height="1.2" fill="#b8b0a4" opacity="0.49"/>
<rect x="662.7" y="240.5" width="1.2" height="1.2" fill="#b8b0a4" opacity="0.29"/>
<rect x="792.4" y="232.3" width="1.2" height="1.2" fill="#b8b0a4" opacity="0.45"/>
<rect x="771.2" y="238.6" width="1.2" height="1.2" fill="#b8b0a4" opacity="0.27"/>
<rect x="781.9" y="241.5" width="1.2" height="1.2" fill="#b8b0a4" opacity="0.27"/>
<rect x="677.0" y="245.4" width="1.2" height="1.2" fill="#b8b0a4" opacity="0.43"/>
<rect x="717.8" y="232.4" width="1.2" height="1.2" fill="#b8b0a4" opacity="0.29"/>
<rect x="640.6" y="240.4" width="1.2" height="1.2" fill="#b8b0a4" opacity="0.49"/>
<rect x="712.1" y="236.5" width="1.2" height="1.2" fill="#b8b0a4" opacity="0.35"/>
<rect x="662.5" y="238.1" width="1.2" height="1.2" fill="#b8b0a4" opacity="0.26"/>
<rect x="690.6" y="244.5" width="1.2" height="1.2" fill="#b8b0a4" opacity="0.27"/>
<rect x="640.3" y="243.8" width="1.2" height="1.2" fill="#b8b0a4" opacity="0.33"/>
<rect x="774.3" y="232.5" width="1.2" height="1.2" fill="#b8b0a4" opacity="0.40"/>
<rect x="788.2" y="241.5" width="1.2" height="1.2" fill="#b8b0a4" opacity="0.48"/>
<rect x="784.3" y="234.9" width="1.2" height="1.2" fill="#b8b0a4" opacity="0.24"/>
<rect x="699.6" y="238.1" width="1.2" height="1.2" fill="#b8b0a4" opacity="0.32"/>
<rect x="799.8" y="239.4" width="1.2" height="1.2" fill="#b8b0a4" opacity="0.26"/>
<rect x="697.7" y="238.6" width="1.2" height="1.2" fill="#b8b0a4" opacity="0.49"/>
<rect x="684.0" y="233.6" width="1.2" height="1.2" fill="#b8b0a4" opacity="0.24"/>
<rect x="656.3" y="244.7" width="1.2" height="1.2" fill="#b8b0a4" opacity="0.22"/>
<rect x="685.7" y="245.8" width="1.2" height="1.2" fill="#b8b0a4" opacity="0.22"/>
<rect x="679.9" y="236.7" width="1.2" height="1.2" fill="#b8b0a4" opacity="0.32"/>
<rect x="721.8" y="234.7" width="1.2" height="1.2" fill="#b8b0a4" opacity="0.47"/>
<rect x="699.7" y="246.0" width="1.2" height="1.2" fill="#b8b0a4" opacity="0.47"/>
<rect x="781.5" y="243.2" width="1.2" height="1.2" fill="#b8b0a4" opacity="0.42"/>
<rect x="740.9" y="245.1" width="1.2" height="1.2" fill="#b8b0a4" opacity="0.50"/>
<rect x="790.5" y="238.9" width="1.2" height="1.2" fill="#b8b0a4" opacity="0.48"/>
<rect x="755.1" y="231.9" width="1.2" height="1.2" fill="#b8b0a4" opacity="0.30"/>
<rect x="757.2" y="237.9" width="1.2" height="1.2" fill="#b8b0a4" opacity="0.26"/>
<rect x="760.4" y="240.8" width="1.2" height="1.2" fill="#b8b0a4" opacity="0.48"/>
<rect x="685.8" y="233.5" width="1.2" height="1.2" fill="#b8b0a4" opacity="0.42"/>
<rect x="788.3" y="232.3" width="1.2" height="1.2" fill="#b8b0a4" opacity="0.21"/>
<rect x="715.5" y="237.1" width="1.2" height="1.2" fill="#b8b0a4" opacity="0.40"/>
<rect x="687.6" y="243.1" width="1.2" height="1.2" fill="#b8b0a4" opacity="0.31"/>
<rect x="796.2" y="234.2" width="1.2" height="1.2" fill="#b8b0a4" opacity="0.31"/>
<rect x="745.0" y="235.9" width="1.2" height="1.2" fill="#b8b0a4" opacity="0.30"/>
<rect x="729.2" y="237.6" width="1.2" height="1.2" fill="#b8b0a4" opacity="0.25"/>
<rect x="666.8" y="235.5" width="1.2" height="1.2" fill="#b8b0a4" opacity="0.20"/>
<rect x="673.3" y="245.5" width="1.2" height="1.2" fill="#b8b0a4" opacity="0.28"/>
<rect x="719.5" y="235.2" width="1.2" height="1.2" fill="#b8b0a4" opacity="0.31"/>
<rect x="785.0" y="246.0" width="1.2" height="1.2" fill="#b8b0a4" opacity="0.49"/>
<rect x="712.0" y="234.2" width="1.2" height="1.2" fill="#b8b0a4" opacity="0.24"/>
<rect x="670.8" y="234.5" width="1.2" height="1.2" fill="#b8b0a4" opacity="0.49"/>
<rect x="694.7" y="233.9" width="1.2" height="1.2" fill="#b8b0a4" opacity="0.26"/>
<rect x="678.3" y="236.6" width="1.2" height="1.2" fill="#b8b0a4" opacity="0.31"/>
<rect x="731.1" y="244.8" width="1.2" height="1.2" fill="#b8b0a4" opacity="0.45"/>
<rect x="759.9" y="237.3" width="1.2" height="1.2" fill="#b8b0a4" opacity="0.45"/>
<rect x="706.2" y="239.8" width="1.2" height="1.2" fill="#b8b0a4" opacity="0.33"/>
<rect x="700.3" y="237.3" width="1.2" height="1.2" fill="#b8b0a4" opacity="0.21"/>
<rect x="649.9" y="237.4" width="1.2" height="1.2" fill="#b8b0a4" opacity="0.34"/>
<rect x="794.8" y="232.1" width="1.2" height="1.2" fill="#b8b0a4" opacity="0.31"/>
<rect x="720.5" y="241.1" width="1.2" height="1.2" fill="#b8b0a4" opacity="0.48"/>
<rect x="778.1" y="233.9" width="1.2" height="1.2" fill="#b8b0a4" opacity="0.26"/>
<rect x="683.4" y="236.3" width="1.2" height="1.2" fill="#b8b0a4" opacity="0.31"/>
<rect x="704.0" y="238.7" width="1.2" height="1.2" fill="#b8b0a4" opacity="0.47"/>
<rect x="792.6" y="243.6" width="1.2" height="1.2" fill="#b8b0a4" opacity="0.21"/>
<rect x="779.7" y="230.8" width="1.2" height="1.2" fill="#b8b0a4" opacity="0.32"/>
<rect x="645.2" y="243.2" width="1.2" height="1.2" fill="#b8b0a4" opacity="0.44"/>
<rect x="783.3" y="237.8" width="1.2" height="1.2" fill="#b8b0a4" opacity="0.43"/>
<rect x="733.9" y="231.7" width="1.2" height="1.2" fill="#b8b0a4" opacity="0.21"/>
<rect x="702.6" y="245.6" width="1.2" height="1.2" fill="#b8b0a4" opacity="0.21"/>
<rect x="772.1" y="243.9" width="1.2" height="1.2" fill="#b8b0a4" opacity="0.22"/>
<rect x="795.6" y="234.1" width="1.2" height="1.2" fill="#b8b0a4" opacity="0.48"/>
<rect x="657.4" y="235.6" width="1.2" height="1.2" fill="#b8b0a4" opacity="0.28"/>
<rect x="723.6" y="241.8" width="1.2" height="1.2" fill="#b8b0a4" opacity="0.42"/>
<rect x="790.6" y="241.7" width="1.2" height="1.2" fill="#b8b0a4" opacity="0.47"/>
<rect x="743.6" y="242.8" width="1.2" height="1.2" fill="#b8b0a4" opacity="0.30"/>
<rect x="713.2" y="240.1" width="1.2" height="1.2" fill="#b8b0a4" opacity="0.28"/>
<rect x="646.3" y="244.1" width="1.2" height="1.2" fill="#b8b0a4" opacity="0.49"/>
<rect x="677.2" y="245.7" width="1.2" height="1.2" fill="#b8b0a4" opacity="0.39"/>
<rect x="743.3" y="236.0" width="1.2" height="1.2" fill="#b8b0a4" opacity="0.28"/>
<rect x="660.5" y="236.9" width="1.2" height="1.2" fill="#b8b0a4" opacity="0.41"/>
</g>
<rect x="640" y="248" width="162" height="4.2" fill="#5c2219"/>
<ellipse cx="679" cy="156" rx="10.2" ry="6.84" fill="#9fc4f0" opacity="0.55" filter="url(#b2)"/>
<ellipse cx="679" cy="156" rx="6" ry="3.6" fill="#fff" filter="url(#b1)"/>
<ellipse cx="703" cy="149" rx="11.9" ry="7.6" fill="#9fc4f0" opacity="0.55" filter="url(#b2)"/>
<ellipse cx="703" cy="149" rx="7" ry="4" fill="#fff" filter="url(#b1)"/>
<ellipse cx="727" cy="140.5" rx="12.75" ry="7.9799999999999995" fill="#9fc4f0" opacity="0.55" filter="url(#b2)"/>
<ellipse cx="727" cy="140.5" rx="7.5" ry="4.2" fill="#fff" filter="url(#b1)"/>
<ellipse cx="758" cy="131.5" rx="14.45" ry="8.739999999999998" fill="#9fc4f0" opacity="0.55" filter="url(#b2)"/>
<ellipse cx="758" cy="131.5" rx="8.5" ry="4.6" fill="#fff" filter="url(#b1)"/>
<ellipse cx="792" cy="122.5" rx="15.299999999999999" ry="9.5" fill="#9fc4f0" opacity="0.55" filter="url(#b2)"/>
<ellipse cx="792" cy="122.5" rx="9" ry="5" fill="#fff" filter="url(#b1)"/>
<rect x="544" y="118" width="150" height="149" fill="url(#sun1)"/>
<path d="M544 236 L600 230 L650 236 L650 253 L544 253 Z" fill="#b47a1c" opacity="0.75" filter="url(#b2)"/>
<path d="M548 215 L590 253 L575 253 Z" fill="#fff2c0" opacity="0.55" filter="url(#b1)"/>
<path d="M548 215 L610 253 L600 253 Z" fill="#fff2c0" opacity="0.4" filter="url(#b1)"/>
<rect x="544" y="252" width="258" height="15" fill="url(#gr1)"/>
<rect x="544" y="251.5" width="120" height="2" fill="#f0d850" opacity="0.7"/>
<rect x="544" y="261" width="258" height="6" fill="#1e5a0c" opacity="0.3"/>
<path d="M660 257 L690 256 L700 259 L665 260 Z" fill="#1a3a0c" opacity="0.55" filter="url(#b1)"/>
<g>
<path d="M635 202 L643.5 199 L648.5 215 L642 218.5 Z" fill="#b81c14"/>
<path d="M641 216.5 L647.5 214 L650.5 225 L644 227.5 Z" fill="#c98a68"/>
<path d="M643.2 225.5 L650.5 223 L657.5 237 L651 240.5 Z" fill="#c2201a"/>
<path d="M654.3 238.5 L661 236 L664.3 249.5 L659.3 253 L656.5 247 Z" fill="#ecd53a"/>
<path d="M624.4 196.5 L643 189.5 L646.2 197 L640 205 L626 204 Z" fill="#a81a12"/>
<path d="M626.5 200 L636.5 198 L638.5 205.5 L634.5 211 L628.5 209 Z" fill="#cf916e"/>
<path d="M629.5 208 L636.8 208 L636 228 L630.6 228 Z" fill="#b81c14"/>
<path d="M622.4 232.5 L630 228 L636.8 229 L636 234.5 L626 238 Z" fill="#ead23c"/>
<path d="M604.3 166.4 L620 160.3 L632 161.2 L644.5 163.8 L655.5 177.5 L650.5 180.5 L644.8 175 L642.8 190 L640 196.5 L624.4 197.5 L620 178 L607.8 171.7 Z" fill="#cd261a"/>
<path d="M633 170 L644.8 175 L642.8 190 L640 196.5 L630 197 Z" fill="#9c1a12" opacity="0.75"/>
<path d="M605.5 166.3 L595 162.8 L593 166.8 L607 171.2 Z" fill="#d6a07c"/>
<circle cx="593.2" cy="164.6" r="2.9" fill="#eadcae"/>
<path d="M652 177 L656 175.5 L662.5 182 L659.5 184.5 Z" fill="#cf9270"/>
<ellipse cx="636.7" cy="153" rx="5.2" ry="6.2" fill="#c98e6c"/>
<path d="M631.2 152 Q631 145.6 637.5 145.8 Q642.8 146.4 642 152 Q637.5 148.5 631.2 152 Z" fill="#24160f"/>
<path d="M633 156 Q636 160 640 157.5 L639.5 160.5 L634 160.5 Z" fill="#3a2218" opacity="0.8"/>
</g>
<circle cx="632.8" cy="133.4" r="6.8" fill="#2a2a2e"/>
<path d="M628 130 Q632 127 637 129 Q635 134 630 135 Z" fill="#e8e8e8"/>
<path d="M633 137 Q637 136 639 133 Q639 138 635 140 Z" fill="#cfcfcf"/>
</g>
<rect x="544.5" y="119" width="256" height="147" fill="none" stroke="#000" stroke-width="0.8"/>
<circle cx="672.5" cy="272.4" r="2.4" fill="#c9c9cc"/>
<circle cx="672.5" cy="272.4" r="1.1" fill="#222"/>
<text x="675.6" y="274.3" font-family="'Liberation Sans', Arial, sans-serif" font-size="5.2" font-weight="bold" fill="#bdbdbd" textLength="5.6" lengthAdjust="spacingAndGlyphs">LG</text>
<defs>
<clipPath id="scr2"><rect x="494.5" y="527" width="306" height="173.5"/></clipPath>
<linearGradient id="gr2" x1="494" y1="0" x2="800" y2="0" gradientUnits="userSpaceOnUse">
<stop offset="0" stop-color="#8ea552"/><stop offset="0.3" stop-color="#6a9436"/><stop offset="0.6" stop-color="#558a2c"/><stop offset="1" stop-color="#4e7e2a"/>
</linearGradient>
<linearGradient id="grv2" x1="0" y1="674" x2="0" y2="702" gradientUnits="userSpaceOnUse">
<stop offset="0" stop-color="#a8ac54" stop-opacity="0"/><stop offset="1" stop-color="#a8ac54" stop-opacity="0.7"/>
</linearGradient>
<linearGradient id="top2" x1="0" y1="527" x2="0" y2="640" gradientUnits="userSpaceOnUse">
<stop offset="0" stop-color="#d6d7e2"/><stop offset="0.24" stop-color="#c6c6d2"/><stop offset="0.36" stop-color="#777380"/><stop offset="0.6" stop-color="#5f5a62"/><stop offset="1" stop-color="#66625f"/>
</linearGradient>
</defs>
<path d="M502 705 L513 705 L516.2 717.5 L512.5 719.8 L508.3 712.5 L499 727.8 L493.6 724.5 Z" fill="#141414"/>
<path d="M783.5 705 L794.5 705 L804 728 L799 729.5 L789.5 712 L785 719.8 L780 717.5 Z" fill="#141414"/>
<rect x="490.2" y="523" width="315" height="183.4" rx="1.5" fill="#0e0e0e"/>
<rect x="491.2" y="524" width="312" height="2.6" fill="#34343a"/>
<rect x="491.2" y="524" width="2.6" height="178" fill="#2a2a2e"/>
<g clip-path="url(#scr2)">
<rect x="494" y="526" width="308" height="176" fill="url(#top2)"/>
<ellipse cx="555" cy="545" rx="75" ry="18" fill="#dfe2e8" opacity="0.85" filter="url(#b4)"/>
<path d="M560 527 L650 527 L650 552 L600 548 Z" fill="#6f9cc0" opacity="0.7" filter="url(#b2)"/>
<path d="M655 527 L715 527 L708 548 L668 546 Z" fill="#5e3588" filter="url(#b2)"/>
<path d="M640 540 L700 545 L700 575 L640 575 Z" fill="#7a93b0" opacity="0.6" filter="url(#b2)"/>
<path d="M590 575 L730 560 L730 670 L590 650 Z" fill="#2b2930" filter="url(#b2)"/>
<circle cx="629.7" cy="625.8" r="1.7" fill="#c9c6d2" opacity="0.62"/>
<circle cx="678.2" cy="589.9" r="1.2" fill="#c9c6d2" opacity="0.73"/>
<circle cx="632.4" cy="602.6" r="2.6" fill="#c9c6d2" opacity="0.56"/>
<circle cx="704.6" cy="620.7" r="2.1" fill="#c9c6d2" opacity="0.42"/>
<circle cx="679.4" cy="650.1" r="1.9" fill="#c9c6d2" opacity="0.68"/>
<circle cx="683.9" cy="589.8" r="2.3" fill="#c9c6d2" opacity="0.62"/>
<circle cx="637.7" cy="587.3" r="2.4" fill="#c9c6d2" opacity="0.56"/>
<circle cx="689.9" cy="650.9" r="2.2" fill="#c9c6d2" opacity="0.76"/>
<circle cx="649.4" cy="645.1" r="1.8" fill="#c9c6d2" opacity="0.77"/>
<circle cx="709.9" cy="592.3" r="1.4" fill="#c9c6d2" opacity="0.45"/>
<circle cx="720.7" cy="617.7" r="2.1" fill="#c9c6d2" opacity="0.49"/>
<circle cx="663.4" cy="613.9" r="1.7" fill="#c9c6d2" opacity="0.61"/>
<circle cx="683.9" cy="597.2" r="2.4" fill="#c9c6d2" opacity="0.78"/>
<circle cx="713.1" cy="627.7" r="2.2" fill="#c9c6d2" opacity="0.45"/>
<circle cx="704.0" cy="628.0" r="1.6" fill="#c9c6d2" opacity="0.38"/>
<circle cx="651.3" cy="596.3" r="1.6" fill="#c9c6d2" opacity="0.70"/>
<circle cx="709.1" cy="588.3" r="2.1" fill="#c9c6d2" opacity="0.37"/>
<circle cx="689.8" cy="609.8" r="2.4" fill="#c9c6d2" opacity="0.79"/>
<circle cx="638.7" cy="590.8" r="2.0" fill="#c9c6d2" opacity="0.36"/>
<circle cx="624.7" cy="615.6" r="2.1" fill="#c9c6d2" opacity="0.42"/>
<circle cx="712.1" cy="613.3" r="1.8" fill="#c9c6d2" opacity="0.58"/>
<circle cx="680.5" cy="629.7" r="2.0" fill="#c9c6d2" opacity="0.63"/>
<circle cx="717.6" cy="623.0" r="1.8" fill="#c9c6d2" opacity="0.67"/>
<circle cx="629.7" cy="607.6" r="2.6" fill="#c9c6d2" opacity="0.58"/>
<circle cx="668.6" cy="585.9" r="1.8" fill="#c9c6d2" opacity="0.61"/>
<circle cx="602.5" cy="631.2" r="2.1" fill="#c9c6d2" opacity="0.38"/>
<circle cx="678.4" cy="620.0" r="2.2" fill="#c9c6d2" opacity="0.51"/>
<circle cx="688.4" cy="640.4" r="1.2" fill="#c9c6d2" opacity="0.38"/>
<circle cx="631.4" cy="619.2" r="2.0" fill="#c9c6d2" opacity="0.49"/>
<circle cx="645.5" cy="608.5" r="1.7" fill="#c9c6d2" opacity="0.62"/>
<circle cx="637.6" cy="613.3" r="2.3" fill="#c9c6d2" opacity="0.36"/>
<circle cx="671.2" cy="640.1" r="1.6" fill="#c9c6d2" opacity="0.45"/>
<circle cx="700.5" cy="602.9" r="1.5" fill="#c9c6d2" opacity="0.55"/>
<circle cx="687.3" cy="592.6" r="1.7" fill="#c9c6d2" opacity="0.50"/>
<circle cx="704.2" cy="617.9" r="2.4" fill="#c9c6d2" opacity="0.43"/>
<circle cx="642.1" cy="633.8" r="2.4" fill="#c9c6d2" opacity="0.55"/>
<circle cx="628.1" cy="594.1" r="1.9" fill="#c9c6d2" opacity="0.44"/>
<circle cx="700.8" cy="647.9" r="1.5" fill="#c9c6d2" opacity="0.48"/>
<circle cx="700.9" cy="633.1" r="2.3" fill="#c9c6d2" opacity="0.51"/>
<circle cx="616.2" cy="606.9" r="2.3" fill="#c9c6d2" opacity="0.47"/>
<circle cx="643.3" cy="616.3" r="1.8" fill="#c9c6d2" opacity="0.53"/>
<circle cx="715.1" cy="596.7" r="1.2" fill="#c9c6d2" opacity="0.77"/>
<circle cx="715.9" cy="601.7" r="2.2" fill="#c9c6d2" opacity="0.73"/>
<circle cx="682.9" cy="623.9" r="1.6" fill="#c9c6d2" opacity="0.50"/>
<circle cx="628.4" cy="590.1" r="2.0" fill="#c9c6d2" opacity="0.48"/>
<circle cx="701.3" cy="588.4" r="2.5" fill="#c9c6d2" opacity="0.66"/>
<circle cx="715.5" cy="652.2" r="2.5" fill="#c9c6d2" opacity="0.61"/>
<circle cx="601.6" cy="640.9" r="1.4" fill="#c9c6d2" opacity="0.48"/>
<circle cx="682.9" cy="624.4" r="1.8" fill="#c9c6d2" opacity="0.77"/>
<circle cx="560.4" cy="582.2" r="1.5" fill="#a9a6b2" opacity="0.46"/>
<circle cx="546.7" cy="610.9" r="1.6" fill="#a9a6b2" opacity="0.26"/>
<circle cx="552.5" cy="613.1" r="1.4" fill="#a9a6b2" opacity="0.44"/>
<circle cx="592.0" cy="612.4" r="2.2" fill="#a9a6b2" opacity="0.20"/>
<circle cx="562.1" cy="616.1" r="1.3" fill="#a9a6b2" opacity="0.28"/>
<circle cx="525.4" cy="594.3" r="1.7" fill="#a9a6b2" opacity="0.34"/>
<circle cx="577.2" cy="560.1" r="1.3" fill="#a9a6b2" opacity="0.24"/>
<circle cx="510.7" cy="564.4" r="2.4" fill="#a9a6b2" opacity="0.46"/>
<circle cx="506.8" cy="592.6" r="1.6" fill="#a9a6b2" opacity="0.29"/>
<circle cx="533.8" cy="602.0" r="1.9" fill="#a9a6b2" opacity="0.31"/>
<circle cx="517.5" cy="581.4" r="1.3" fill="#a9a6b2" opacity="0.37"/>
<circle cx="571.0" cy="584.7" r="1.3" fill="#a9a6b2" opacity="0.25"/>
<circle cx="536.1" cy="599.3" r="2.1" fill="#a9a6b2" opacity="0.31"/>
<circle cx="579.7" cy="600.5" r="1.7" fill="#a9a6b2" opacity="0.31"/>
<circle cx="548.6" cy="605.7" r="1.7" fill="#a9a6b2" opacity="0.41"/>
<circle cx="545.0" cy="575.9" r="1.8" fill="#a9a6b2" opacity="0.41"/>
<circle cx="505.3" cy="587.6" r="1.7" fill="#a9a6b2" opacity="0.46"/>
<circle cx="593.5" cy="584.3" r="2.3" fill="#a9a6b2" opacity="0.44"/>
<circle cx="524.7" cy="590.2" r="1.3" fill="#a9a6b2" opacity="0.44"/>
<circle cx="565.6" cy="617.7" r="2.2" fill="#a9a6b2" opacity="0.40"/>
<circle cx="572.8" cy="596.6" r="1.3" fill="#a9a6b2" opacity="0.38"/>
<circle cx="498.5" cy="569.3" r="2.1" fill="#a9a6b2" opacity="0.21"/>
<circle cx="507.4" cy="566.5" r="2.3" fill="#a9a6b2" opacity="0.25"/>
<circle cx="500.4" cy="614.7" r="1.3" fill="#a9a6b2" opacity="0.45"/>
<circle cx="566.7" cy="614.4" r="2.3" fill="#a9a6b2" opacity="0.37"/>
<circle cx="579.5" cy="562.4" r="2.1" fill="#a9a6b2" opacity="0.35"/>
<circle cx="570.9" cy="566.9" r="2.1" fill="#a9a6b2" opacity="0.48"/>
<circle cx="504.2" cy="581.1" r="1.9" fill="#a9a6b2" opacity="0.45"/>
<circle cx="522.7" cy="571.7" r="1.5" fill="#a9a6b2" opacity="0.38"/>
<circle cx="574.9" cy="585.6" r="1.6" fill="#a9a6b2" opacity="0.32"/>
<circle cx="533.7" cy="587.2" r="1.3" fill="#a9a6b2" opacity="0.35"/>
<circle cx="597.3" cy="586.8" r="2.1" fill="#a9a6b2" opacity="0.25"/>
<circle cx="568.5" cy="609.1" r="2.0" fill="#a9a6b2" opacity="0.36"/>
<circle cx="547.3" cy="601.8" r="2.3" fill="#a9a6b2" opacity="0.24"/>
<circle cx="507.8" cy="608.6" r="2.3" fill="#a9a6b2" opacity="0.36"/>
<circle cx="543.2" cy="606.7" r="1.4" fill="#a9a6b2" opacity="0.28"/>
<circle cx="518.3" cy="598.1" r="1.6" fill="#a9a6b2" opacity="0.27"/>
<circle cx="568.5" cy="622.0" r="1.6" fill="#a9a6b2" opacity="0.41"/>
<circle cx="540.1" cy="615.5" r="1.9" fill="#a9a6b2" opacity="0.28"/>
<circle cx="520.2" cy="561.5" r="1.8" fill="#a9a6b2" opacity="0.31"/>
<path d="M494 629 L590 642 L690 661 L802 672 L802 702 L494 702 Z" fill="url(#gr2)"/>
<path d="M494 640 L560 652 L540 668 L494 662 Z" fill="#a8b878" opacity="0.5" filter="url(#b2)"/>
<path d="M494 676 L802 676 L802 702 L494 702 Z" fill="url(#grv2)"/>
<path d="M497 672 L560 680 L600 694 L560 696 L497 684 Z" fill="#1c2a14" opacity="0.75" filter="url(#b1)"/>
<path d="M590 668 L640 670 L650 676 L600 677 Z" fill="#1c2a14" opacity="0.6" filter="url(#b1)"/>
<path d="M762 527 L802 527 L802 702 L748 702 Z" fill="#d2d3dc"/>
<path d="M766 560 L802 545 L802 702 L752 702 Z" fill="#a9abb8" opacity="0.8" filter="url(#b2)"/>
<path d="M764 640 L802 655 L802 702 L752 702 Z" fill="#6f7a5a" opacity="0.7" filter="url(#b2)"/>
<path d="M770 617 L779 616 L781 632 L769 633 Z" fill="#e0bf24"/>
<path d="M766 632 L782 630 L789 655 L787 686 L768 688 L763 660 Z" fill="#17161c"/>
<path d="M784 625 L801 622 L802 658 L787 659 Z" fill="#e2c224"/>
<ellipse cx="796" cy="621" rx="5.5" ry="6.5" fill="#7a4a3a"/>
<path d="M786 658 L802 657 L802 684 L790 684 Z" fill="#3a3a44" opacity="0.8"/>
<path d="M784 687 L802 685 L802 701 L786 701 Z" fill="#e3b91e"/>
<path d="M772 527 L758 702" stroke="#40404c" stroke-width="0.9" opacity="0.65" fill="none"/>
<path d="M780 527 L766 702" stroke="#40404c" stroke-width="0.9" opacity="0.65" fill="none"/>
<path d="M788 527 L774 702" stroke="#40404c" stroke-width="0.9" opacity="0.65" fill="none"/>
<path d="M796 527 L782 702" stroke="#40404c" stroke-width="0.9" opacity="0.65" fill="none"/>
<path d="M804 527 L790 702" stroke="#40404c" stroke-width="0.9" opacity="0.65" fill="none"/>
<path d="M812 527 L798 702" stroke="#40404c" stroke-width="0.9" opacity="0.65" fill="none"/>
<path d="M820 527 L806 702" stroke="#40404c" stroke-width="0.9" opacity="0.65" fill="none"/>
<path d="M828 527 L814 702" stroke="#40404c" stroke-width="0.9" opacity="0.65" fill="none"/>
<path d="M758 535.0 L802 523.0" stroke="#40404c" stroke-width="0.9" opacity="0.65" fill="none"/>
<path d="M758 547.5 L802 535.5" stroke="#40404c" stroke-width="0.9" opacity="0.65" fill="none"/>
<path d="M758 560.0 L802 548.0" stroke="#40404c" stroke-width="0.9" opacity="0.65" fill="none"/>
<path d="M758 572.5 L802 560.5" stroke="#40404c" stroke-width="0.9" opacity="0.65" fill="none"/>
<path d="M758 585.0 L802 573.0" stroke="#40404c" stroke-width="0.9" opacity="0.65" fill="none"/>
<path d="M758 597.5 L802 585.5" stroke="#40404c" stroke-width="0.9" opacity="0.65" fill="none"/>
<path d="M758 610.0 L802 598.0" stroke="#40404c" stroke-width="0.9" opacity="0.65" fill="none"/>
<path d="M758 622.5 L802 610.5" stroke="#40404c" stroke-width="0.9" opacity="0.65" fill="none"/>
<path d="M758 635.0 L802 623.0" stroke="#40404c" stroke-width="0.9" opacity="0.65" fill="none"/>
<path d="M758 647.5 L802 635.5" stroke="#40404c" stroke-width="0.9" opacity="0.65" fill="none"/>
<path d="M758 660.0 L802 648.0" stroke="#40404c" stroke-width="0.9" opacity="0.65" fill="none"/>
<path d="M758 672.5 L802 660.5" stroke="#40404c" stroke-width="0.9" opacity="0.65" fill="none"/>
<path d="M758 685.0 L802 673.0" stroke="#40404c" stroke-width="0.9" opacity="0.65" fill="none"/>
<path d="M758 697.5 L802 685.5" stroke="#40404c" stroke-width="0.9" opacity="0.65" fill="none"/>
<path d="M758 710.0 L802 698.0" stroke="#40404c" stroke-width="0.9" opacity="0.65" fill="none"/>
<path d="M718 637 L749 632 L751 660 L747 690 L722 692 L715 668 Z" fill="#121214"/>
<path d="M723 686 L736 684 L737 692 L724 693 Z" fill="#c08868"/>
<path d="M723 691 L737 690 L737 702 L724 702 Z" fill="#e6bc1c"/>
<path d="M650 573 L662 560 L700 550 L716 540 L744 533 L758 538 L756 600 L749 636 L719 640 L712 610 L700 585 L672 584 L655 583 Z" fill="#ecc31e"/>
<path d="M700 585 L712 610 L720 640 L748 636 L752 615 L730 600 Z" fill="#d9ae18"/>
<path d="M697 554 L705 553 L712 580 L718 598 L708 592 L703 575 Z" fill="#1f3f8a"/>
<path d="M733 563 L738 558 L741 560 L749 586 L744 588 L738 567 Z" fill="#1a2a66"/>
<path d="M722 546 L745 537 L756 537 L756 541 L728 549 Z" fill="#1f3f8a"/>
<path d="M704 528 L732 527 L734 540 L726 548 L712 550 L706 542 Z" fill="#20242a"/>
<path d="M643 545 L651 548 L660 568 L652 574 L644 560 Z" fill="#d6a280"/>
<path d="M640 527 L652 527 L652 548 L641 551 Z" fill="#e6e8ee"/>
<path d="M640 541 L652 538 L652 546 L641 550 Z" fill="#2a6ab8"/>
<path d="M756 527 L769 527 L756 702 L736 702 Z" fill="#f0f1f4"/>
<path d="M766 527 L769 527 L756 702 L751 702 Z" fill="#c9ccd4"/>
<path d="M628 613 L645 610 L650 622 L647 640 L629 641 L627 626 Z" fill="#e8c41c"/>
<path d="M628 640 L647 639 L648 652 L638 654 L627 650 Z" fill="#15151a"/>
<ellipse cx="637" cy="604" rx="5" ry="6.5" fill="#7a4a30"/>
<path d="M630 600 Q637 592 645 600 L644 604 L631 604 Z" fill="#1a120e"/>
<path d="M616 628 L628 614 L631 618 L620 632 Z" fill="#d6a280"/>
<path d="M648 620 L652 619 L660 645 L657 647 Z" fill="#d6a280"/>
<path d="M622 650 L630 648 L626 656 L620 660 Z" fill="#d6a280"/>
<path d="M614 657 L621 655 L617 672 L612 672 Z" fill="#ecece8"/>
<path d="M640 652 L646 652 L645 664 L641 664 Z" fill="#d6a280"/>
<path d="M641 662 L646 662 L647 672 L643 672 Z" fill="#ecece8"/>
<path d="M603 672 L615 670 L616 675 L606 677 Z" fill="#d8c23a"/>
<path d="M643 671 L648 671 L650 676 L645 677 Z" fill="#d8c23a"/>
<path d="M574 613 L588 611 L592 625 L590 633 L578 630 Z" fill="#e3bb1c"/>
<ellipse cx="596" cy="603" rx="5" ry="6.5" fill="#c9906a"/>
<path d="M590 599 Q596 593 602 599 L601 602 L591 602 Z" fill="#7a5228"/>
<path d="M590 616 L615 614 L622 610 L623 615 L612 620 L592 622 Z" fill="#d6a280"/>
<path d="M592 632 L612 638 L611 642 L590 638 Z" fill="#d6a280"/>
<path d="M560 658 L572 640 L578 644 L568 662 Z" fill="#ecece8"/>
<path d="M509 577 L551 573 L552 580 L520 584 L510 586 Z" fill="#d6a280"/>
<path d="M508 580 a3.5 3.5 0 1 0 7 0 a3.5 3.5 0 1 0 -7 0" fill="#d6a280"/>
<path d="M549 573 L575 570 L588 580 L590 606 L594 616 L586 620 L562 622 L545 612 L552 590 Z" fill="#2a5ab8"/>
<path d="M556 590 L575 580 L584 600 L570 615 L552 608 Z" fill="#234a9c"/>
<path d="M541 614 L560 610 L582 622 L586 634 L574 644 L560 652 L545 640 L540 626 Z" fill="#1d3f96"/>
<path d="M546 618 L552 616 L574 640 L568 646 Z" fill="#d8b428"/>
<path d="M570 634 L586 628 L596 640 L594 654 L580 658 L574 648 Z" fill="#d6a280"/>
<path d="M574 652 L590 650 L588 672 L584 688 L576 688 L576 670 Z" fill="#1e3e98"/>
<path d="M560 652 L572 660 L562 678 L555 686 L550 682 L556 668 Z" fill="#2448a8"/>
<path d="M551 682 L560 684 L572 690 L570 694 L552 690 Z" fill="#3a62c2"/>
<path d="M576 686 L588 686 L600 692 L601 696 L590 697 L576 693 Z" fill="#c8484a"/>
<path d="M590 692 L601 693 L601 696 L590 697 Z" fill="#2a6ab8"/>
<ellipse cx="593" cy="578" rx="7.5" ry="9" fill="#dcae8e"/>
<path d="M586 575 Q590 566 599 569 Q597 572 590 574 Z" fill="#b07e60"/>
<circle cx="618.7" cy="693.5" r="13.5" fill="#d9d7cf"/>
<circle cx="615" cy="689" r="8" fill="#eeeee8" opacity="0.8" filter="url(#b1)"/>
</g>
<rect x="494.5" y="527" width="306" height="173.5" fill="none" stroke="#000" stroke-width="0.8"/>
<circle cx="646.2" cy="703.2" r="1.3" fill="#e4e4e4"/>
<text x="647.8" y="704.4" font-family="'Liberation Sans', Arial, sans-serif" font-size="3.2" font-weight="bold" fill="#e0e0e0">LG</text>
</svg>
</body></html>
